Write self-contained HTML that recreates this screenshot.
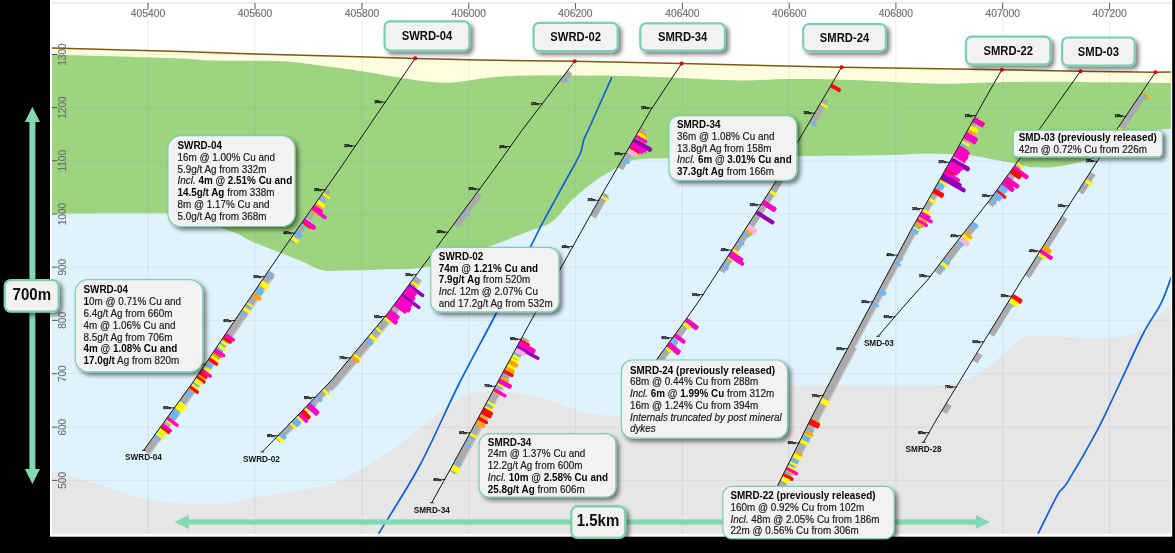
<!DOCTYPE html>
<html><head><meta charset="utf-8"><title>Cross section</title>
<style>html,body{margin:0;padding:0;background:#000;overflow:hidden}svg{display:block}text{font-family:"Liberation Sans",sans-serif}</style></head>
<body>
<svg width="1175" height="553" viewBox="0 0 1175 553" font-family="Liberation Sans, sans-serif">
<defs>
<clipPath id="cp"><rect x="52" y="3" width="1118.8" height="530.8"/></clipPath>
<filter id="sh" x="-20%" y="-20%" width="150%" height="160%"><feGaussianBlur in="SourceAlpha" stdDeviation="1.9"/><feOffset dx="2.5" dy="2.5"/><feComponentTransfer><feFuncA type="linear" slope="0.5"/></feComponentTransfer><feMerge><feMergeNode/><feMergeNode in="SourceGraphic"/></feMerge></filter>
</defs>
<rect x="0" y="0" width="1175" height="553" fill="#000"/>
<rect x="50" y="0" width="1122.2" height="536.7" fill="#fff"/>
<g clip-path="url(#cp)">
<rect x="52" y="3" width="1120" height="531" fill="#dff3fe"/>
<path d="M52,470 C60,472.5 84,480.1 100,485 C116,489.9 132.2,496.4 148,499.6 C163.8,502.8 181.3,503.4 195,504 C208.7,504.6 220,504.1 230,503 C240,501.9 245,499.5 255,497.6 C265,495.7 277.5,493.9 290,491.7 C302.5,489.5 316.7,489 330,484.3 C343.3,479.6 358.3,470.3 370,463.7 C381.7,457.1 390,451.9 400,444.5 C410,437.1 420.7,426.8 430,419.5 C439.3,412.2 449.2,405.3 456,401 C462.8,396.7 466.2,395.3 471,393.7 C475.8,392.1 476.8,391.5 485,391.5 C493.2,391.5 509.2,392 520,393.5 C530.8,395 541.7,398 550,400.4 C558.3,402.8 563.3,405.7 570,407.9 C576.7,410.1 583.3,412.1 590,413.4 C596.7,414.7 604.2,415.1 610,415.5 C615.8,415.9 610,417.2 625,416 C640,414.8 677.5,412 700,408 C722.5,404 745,395.7 760,392 C775,388.3 770.8,386.9 790,385.8 C809.2,384.7 849.5,385.8 875,385.6 C900.5,385.5 928,385.8 943,384.9 C958,384 958.2,382.9 965,380.5 C971.8,378.1 978.2,374.3 984,370.4 C989.8,366.5 994.5,361.7 1000,357 C1005.5,352.3 1010.9,345.8 1016.7,342.2 C1022.5,338.6 1025.3,336.1 1035,335.3 C1044.7,334.5 1062.5,337 1075,337.4 C1087.5,337.8 1100.8,338.2 1110,337.9 C1119.2,337.5 1124.2,337 1130,335.3 C1135.8,333.6 1140,331.1 1145,327.7 C1150,324.3 1155.5,318.9 1160,314.9 C1164.5,310.8 1170,305.3 1172,303.4 L1172,540 L52,540 Z" fill="#e6e6e6"/>
<path d="M52,213.6 C74.2,213.6 159.5,212.8 185,213.7 C210.5,214.6 198.9,216.7 205,219 C211.1,221.3 216,225.2 221.5,227.7 C227,230.2 233.2,231.8 238,234 C242.8,236.2 243.4,237.8 250.6,241 C257.8,244.2 272.6,249.6 281,253 C289.4,256.4 294.6,258.4 301.3,261.2 C308.1,264 315.1,268.4 321.5,270 C327.9,271.6 330.2,270.8 340,270.7 C349.8,270.6 365.2,270.3 380,269.6 C394.8,268.9 410.5,270.5 429,266.6 C447.5,262.7 474,252 490.8,246 C507.6,240 519.9,234.8 530,230.8 C540.1,226.8 545.1,226.6 551.6,222 C558.1,217.4 563.6,208.5 568.9,203.2 C574.2,197.9 578.8,194 583.4,190.1 C588,186.2 591.7,183.2 596.4,180 C601.1,176.8 606.8,173.7 611.7,170.8 C616.6,167.9 621.4,164.7 626,162.8 C630.6,160.9 631.9,159.9 639.2,159.2 C646.5,158.4 649.5,158.8 669.6,158.3 C689.7,157.9 724.9,157 760,156.5 C795.1,156 853.3,155.8 880,155.3 C906.7,154.9 907.8,154 920,153.8 C932.2,153.6 943.3,153.9 953,154.3 C962.7,154.7 970.2,155.3 978,156.4 C985.8,157.5 993,159.5 1000,160.8 C1007,162.1 1015,163.4 1020,164.4 C1025,165.4 1025,166.5 1030,167 C1035,167.5 1043.5,167.9 1050,167.5 C1056.5,167.1 1062.7,165.7 1069,164.5 C1075.3,163.3 1082.8,161.5 1088,160.1 C1093.2,158.7 1093.8,159.3 1100,156 C1106.2,152.7 1117.5,144.2 1125,140 C1132.5,135.8 1137.2,132.8 1145,131 C1152.8,129.2 1167.5,129.3 1172,129 L1172,40 L52,40 Z" fill="#9dd480"/>
<path d="M52,54.7 C60,54.9 78.7,55.4 100,56 C121.3,56.6 161.7,57.8 180,58.5 C198.3,59.2 193,60 210,60.5 C227,61 263.7,60.4 282,61.3 C300.3,62.1 307.2,64 320,65.6 C332.8,67.2 346.2,68.8 359,70.7 C371.8,72.6 386.5,75.4 397,77.1 C407.5,78.8 413.2,80.1 422,81 C430.8,81.9 442,82.8 450,82.7 C458,82.6 461.7,81.3 470,80.3 C478.3,79.3 488.3,77.4 500,76.6 C511.7,75.8 527.5,75.5 540,75.3 C552.5,75.1 561.7,75.4 575,75.5 C588.3,75.6 602.2,75.6 620,76 C637.8,76.4 662,77.2 682,77.9 C702,78.6 722,80.2 740,80.4 C758,80.6 773,79.1 790,79 C807,78.9 827,79.3 842,79.7 C857,80.1 863.7,80.5 880,81.2 C896.3,81.9 920,83.5 940,83.7 C960,83.9 983.3,82.5 1000,82.2 C1016.7,81.9 1023.3,81.7 1040,81.7 C1056.7,81.7 1078,82 1100,82.2 C1122,82.4 1160,82.9 1172,83 L1172,40 L52,40 Z" fill="#fffde0"/>
<line x1="52" y1="54.5" x2="1171" y2="54.5" stroke="#8a8a8a" stroke-opacity="0.11" stroke-width="1"/>
<line x1="52" y1="107.6" x2="1171" y2="107.6" stroke="#8a8a8a" stroke-opacity="0.11" stroke-width="1"/>
<line x1="52" y1="160.8" x2="1171" y2="160.8" stroke="#8a8a8a" stroke-opacity="0.11" stroke-width="1"/>
<line x1="52" y1="214" x2="1171" y2="214" stroke="#8a8a8a" stroke-opacity="0.11" stroke-width="1"/>
<line x1="52" y1="267.2" x2="1171" y2="267.2" stroke="#8a8a8a" stroke-opacity="0.11" stroke-width="1"/>
<line x1="52" y1="320.4" x2="1171" y2="320.4" stroke="#8a8a8a" stroke-opacity="0.11" stroke-width="1"/>
<line x1="52" y1="373.7" x2="1171" y2="373.7" stroke="#8a8a8a" stroke-opacity="0.11" stroke-width="1"/>
<line x1="52" y1="427.2" x2="1171" y2="427.2" stroke="#8a8a8a" stroke-opacity="0.11" stroke-width="1"/>
<line x1="52" y1="480.4" x2="1171" y2="480.4" stroke="#8a8a8a" stroke-opacity="0.11" stroke-width="1"/>
<path d="M52,47.9 L180,51.6 L255,54.1 L359,56.7 L415,58.4 L480,60 L575,61.3 L682,63.6 L842,67.3 L1002,69.7 L1080,71.2 L1155,72.3 L1172,71.9 L1172,0 L52,0 Z" fill="#fff"/>
<line x1="148" y1="3" x2="148" y2="534" stroke="#8a8a8a" stroke-opacity="0.15" stroke-width="1"/>
<line x1="255" y1="3" x2="255" y2="534" stroke="#8a8a8a" stroke-opacity="0.15" stroke-width="1"/>
<line x1="362" y1="3" x2="362" y2="534" stroke="#8a8a8a" stroke-opacity="0.15" stroke-width="1"/>
<line x1="468.7" y1="3" x2="468.7" y2="534" stroke="#8a8a8a" stroke-opacity="0.15" stroke-width="1"/>
<line x1="575.4" y1="3" x2="575.4" y2="534" stroke="#8a8a8a" stroke-opacity="0.15" stroke-width="1"/>
<line x1="682.4" y1="3" x2="682.4" y2="534" stroke="#8a8a8a" stroke-opacity="0.15" stroke-width="1"/>
<line x1="789.2" y1="3" x2="789.2" y2="534" stroke="#8a8a8a" stroke-opacity="0.15" stroke-width="1"/>
<line x1="895.9" y1="3" x2="895.9" y2="534" stroke="#8a8a8a" stroke-opacity="0.15" stroke-width="1"/>
<line x1="1002.7" y1="3" x2="1002.7" y2="534" stroke="#8a8a8a" stroke-opacity="0.15" stroke-width="1"/>
<line x1="1109.6" y1="3" x2="1109.6" y2="534" stroke="#8a8a8a" stroke-opacity="0.15" stroke-width="1"/>
<path d="M52,47.9 L180,51.6 L255,54.1 L359,56.7 L415,58.4 L480,60 L575,61.3 L682,63.6 L842,67.3 L1002,69.7 L1080,71.2 L1155,72.3 L1172,71.9" fill="none" stroke="#7b5a14" stroke-width="1.5"/>
<path d="M611.9,77.1 C609.5,82.6 601.1,101.2 597.2,110 C593.3,118.8 590.5,125 588.3,130 C586,135 585.1,136 583.7,140 C582.3,144 583,147.3 580,154 C577,160.7 572.7,167.7 566,180 C559.3,192.3 545.8,216.8 540,227.8 C534.2,238.8 538.7,231 531,246 C523.3,261 505.9,294.8 493.8,318 C481.7,341.2 470.7,360.5 458.4,385 C446.1,409.5 433.3,440.2 420,465 C406.7,489.8 385.3,522.5 378.4,534" fill="none" stroke="#0f5fd8" stroke-width="1.7"/>
<path d="M1172.4,274 C1170.5,278.9 1165.9,293.4 1161,303.4 C1156.1,313.4 1150.4,319.6 1143,334 C1135.6,348.4 1124.3,374 1116.7,390 C1109.1,406 1105.6,414.6 1097.5,429.8 C1089.4,445 1074.6,470.6 1068,481.4 C1061.4,492.2 1062.7,485.8 1057.7,494.6 C1052.7,503.4 1041.3,527.4 1038,534" fill="none" stroke="#0f5fd8" stroke-width="1.7"/>
<g><polygon points="326,188.5 288.9,241.2 293.6,244.5 330.7,191.8" fill="#ababab"/>
<polygon points="268.9,270.3 235,320 194.5,380 143.7,450.3 150.3,455.1 201.3,384.6 241.8,324.6 275.6,274.9" fill="#c6c6c6"/>
<polygon points="268.9,270.3 235,320 194.5,380 143.7,450.3 149,454.2 200,383.7 240.5,323.7 274.3,274" fill="#ababab"/>
<path d="M323.58,192.61 L330.04,197.16 Q330.53,197.5 330.18,197.99 L329.58,198.85 Q329.23,199.34 328.74,199 L322.28,194.45 Z" fill="#ffff00"/>
<path d="M319.99,197.71 L325.22,201.39 Q325.71,201.74 325.37,202.23 L324.76,203.09 Q324.42,203.58 323.93,203.23 L318.69,199.55 Z" fill="#6fb4f6"/>
<path d="M318.49,199.84 L324.54,204.1 Q325.93,205.08 324.95,206.47 L324.53,207.07 Q323.55,208.46 322.16,207.48 L316.11,203.22 Z" fill="#ffff00"/>
<path d="M316.12,203.21 L322.91,207.99 Q323.4,208.33 323.05,208.82 L322.45,209.68 Q322.1,210.17 321.61,209.83 L314.82,205.05 Z" fill="#ffa400"/>
<path d="M314.94,204.88 L322.3,210.06 Q323.69,211.04 322.71,212.43 L322.63,212.55 Q321.65,213.94 320.26,212.96 L312.9,207.78 Z" fill="#ff00c4"/>
<path d="M313.39,207.08 L326.07,216 Q327.46,216.98 326.48,218.37 L326.4,218.49 Q325.42,219.88 324.03,218.9 L311.35,209.98 Z" fill="#ff00c4"/>
<path d="M311.46,209.82 L318.09,214.49 Q318.58,214.83 318.23,215.32 L317.93,215.75 Q317.58,216.24 317.09,215.9 L310.47,211.24 Z" fill="#ffa400"/>
<path d="M305.9,217.72 L310.07,220.66 Q310.56,221.01 310.22,221.5 L309.92,221.93 Q309.57,222.42 309.08,222.07 L304.91,219.14 Z" fill="#ffb4e0"/>
<path d="M305.29,218.6 L315.35,225.68 Q316.74,226.66 315.76,228.05 L315,229.13 Q314.02,230.52 312.63,229.54 L302.57,222.46 Z" fill="#ff00c4"/>
<path d="M302.88,222.02 L310.59,227.46 Q311.3,227.95 310.8,228.66 L310.8,228.66 Q310.31,229.36 309.6,228.87 L301.88,223.44 Z" fill="#ff0a0a"/>
<path d="M302.04,223.21 L307.03,226.72 Q307.52,227.07 307.18,227.56 L306.57,228.42 Q306.23,228.91 305.74,228.56 L300.75,225.05 Z" fill="#6fb4f6"/>
<path d="M296.77,230.7 L302.58,234.79 Q303.07,235.13 302.72,235.62 L300.7,238.5 Q300.35,238.99 299.86,238.65 L294.05,234.56 Z" fill="#6fb4f6"/>
<path d="M292.91,236.18 L298.72,240.27 Q299.21,240.61 298.86,241.1 L297.52,243.02 Q297.17,243.51 296.68,243.16 L290.88,239.08 Z" fill="#ffff00"/>
<path d="M267.74,272.66 L273.61,276.66 Q274.1,277 273.77,277.49 L272.45,279.43 Q272.11,279.92 271.61,279.59 L265.75,275.59 Z" fill="#6fb4f6"/>
<path d="M262.48,280.39 L269.17,284.95 Q269.67,285.29 269.33,285.78 L266.68,289.67 Q266.34,290.16 265.85,289.82 L259.15,285.26 Z" fill="#ffff00"/>
<path d="M258.12,286.79 L263.98,290.79 Q264.48,291.12 264.14,291.62 L261.49,295.5 Q261.16,296 260.66,295.66 L254.79,291.66 Z" fill="#6fb4f6"/>
<path d="M254.14,292.62 L260.75,297.12 Q262.16,298.08 261.2,299.49 L260.79,300.09 Q259.83,301.49 258.43,300.54 L251.82,296.03 Z" fill="#ffa400"/>
<path d="M247.54,302.31 L252.99,306.03 Q253.49,306.37 253.15,306.86 L252.85,307.3 Q252.52,307.79 252.02,307.45 L246.57,303.74 Z" fill="#ffff00"/>
<path d="M246.24,304.21 L251.28,307.65 Q251.78,307.99 251.44,308.48 L251.15,308.92 Q250.81,309.41 250.31,309.07 L245.27,305.64 Z" fill="#6fb4f6"/>
<path d="M244.57,306.66 L250.44,310.66 Q250.94,311 250.6,311.49 L249.28,313.43 Q248.94,313.92 248.45,313.59 L242.58,309.59 Z" fill="#ffff00"/>
<path d="M241.43,311.28 L246.88,315 Q247.38,315.33 247.04,315.83 L246.15,317.13 Q245.81,317.63 245.32,317.29 L239.86,313.57 Z" fill="#6fb4f6"/>
<path d="M226.53,333.26 L234.33,338.52 Q235.73,339.47 234.78,340.88 L234.71,340.99 Q233.75,342.4 232.34,341.45 L224.55,336.19 Z" fill="#ff00c4"/>
<path d="M224.58,336.16 L231.21,340.63 Q232.62,341.58 231.67,342.99 L231.59,343.11 Q230.64,344.52 229.23,343.57 L222.6,339.09 Z" fill="#ff0a0a"/>
<path d="M221.79,340.29 L227.67,344.26 Q228.17,344.6 227.83,345.1 L227.24,345.97 Q226.91,346.46 226.41,346.13 L220.53,342.16 Z" fill="#ffff00"/>
<path d="M220.3,342.49 L225.36,345.9 Q225.85,346.24 225.52,346.74 L224.93,347.61 Q224.6,348.1 224.1,347.77 L219.04,344.36 Z" fill="#6fb4f6"/>
<path d="M219.24,344.06 L225.96,348.59 Q226.46,348.92 226.12,349.42 L224.81,351.36 Q224.47,351.86 223.98,351.52 L217.26,346.99 Z" fill="#ffff00"/>
<path d="M217.4,346.79 L222.87,350.48 Q223.37,350.82 223.03,351.32 L222.44,352.19 Q222.11,352.68 221.61,352.35 L216.14,348.66 Z" fill="#6fb4f6"/>
<path d="M216.27,348.46 L224.56,354.05 Q225.97,355 225.02,356.41 L224.94,356.53 Q223.99,357.94 222.58,356.99 L214.29,351.39 Z" fill="#ff00c4"/>
<path d="M214.13,351.64 L221.58,356.67 Q222.17,357.07 221.77,357.65 L221.77,357.65 Q221.38,358.24 220.79,357.84 L213.34,352.81 Z" fill="#ff0a0a"/>
<path d="M213.16,353.07 L219.87,357.61 Q220.37,357.94 220.03,358.44 L219.15,359.74 Q218.82,360.24 218.32,359.91 L211.61,355.37 Z" fill="#ffa400"/>
<path d="M211.67,355.27 L218.39,359.81 Q218.88,360.14 218.55,360.64 L217.67,361.94 Q217.33,362.44 216.83,362.11 L210.12,357.57 Z" fill="#ffff00"/>
<path d="M210.13,357.56 L217.59,362.59 Q219,363.54 218.05,364.95 L217.97,365.07 Q217.02,366.48 215.61,365.53 L208.15,360.49 Z" fill="#ff0a0a"/>
<path d="M207.5,361.46 L212.97,365.15 Q213.47,365.48 213.13,365.98 L211.82,367.92 Q211.49,368.42 210.99,368.08 L205.52,364.39 Z" fill="#6fb4f6"/>
<path d="M205.65,364.19 L211.12,367.88 Q211.62,368.22 211.29,368.72 L210.7,369.59 Q210.36,370.08 209.87,369.75 L204.39,366.06 Z" fill="#6fb4f6"/>
<path d="M204.6,365.76 L210.9,370.01 Q211.39,370.34 211.06,370.84 L209.75,372.78 Q209.41,373.28 208.92,372.94 L202.62,368.69 Z" fill="#ffff00"/>
<path d="M202.57,368.76 L211.27,374.63 Q212.68,375.58 211.73,376.99 L211.65,377.11 Q210.7,378.52 209.29,377.57 L200.59,371.69 Z" fill="#ff00c4"/>
<path d="M200.68,371.56 L206.9,375.75 Q208.31,376.7 207.36,378.11 L207.28,378.23 Q206.33,379.64 204.92,378.69 L198.7,374.49 Z" fill="#ff0a0a"/>
<path d="M198.84,374.29 L205.55,378.82 Q206.05,379.16 205.71,379.66 L205.12,380.53 Q204.79,381.02 204.29,380.69 L197.58,376.16 Z" fill="#ffa400"/>
<path d="M197.91,375.66 L204.96,380.41 Q206.37,381.36 205.42,382.77 L205.34,382.89 Q204.39,384.3 202.98,383.35 L195.93,378.59 Z" fill="#ff0a0a"/>
<path d="M196.29,378.07 L202.59,382.32 Q203.08,382.66 202.75,383.15 L200.78,386.07 Q200.44,386.57 199.95,386.23 L193.65,381.98 Z" fill="#ffff00"/>
<path d="M193.6,381.94 L198.54,385.51 Q199.03,385.86 198.67,386.35 L198.37,386.77 Q198.02,387.26 197.53,386.91 L192.58,383.33 Z" fill="#6fb4f6"/>
<path d="M192.46,383.51 L198.21,387.67 Q198.7,388.02 198.35,388.51 L197.42,389.78 Q197.07,390.27 196.59,389.92 L190.83,385.76 Z" fill="#ffff00"/>
<path d="M191.09,385.4 L198.39,390.67 Q199.76,391.67 198.77,393.04 L198.69,393.16 Q197.69,394.54 196.31,393.54 L189.02,388.27 Z" fill="#ff0a0a"/>
<path d="M189.09,388.16 L194.85,392.32 Q195.34,392.67 194.98,393.16 L194.86,393.33 Q194.51,393.82 194.02,393.46 L188.27,389.31 Z" fill="#ffa400"/>
<path d="M188.27,389.31 L193.21,392.88 Q193.7,393.23 193.35,393.72 L192.42,395 Q192.07,395.48 191.59,395.13 L186.64,391.56 Z" fill="#6fb4f6"/>
<path d="M186.09,392.32 L191.03,395.9 Q191.52,396.25 191.17,396.73 L190.55,397.58 Q190.2,398.07 189.72,397.72 L184.77,394.15 Z" fill="#6fb4f6"/>
<path d="M180.88,399.54 L185.42,402.82 Q185.9,403.17 185.55,403.65 L185.24,404.08 Q184.89,404.56 184.41,404.21 L179.87,400.93 Z" fill="#6fb4f6"/>
<path d="M179.83,400.99 L185.99,405.44 Q187.37,406.43 186.37,407.81 L183.52,411.75 Q182.53,413.13 181.15,412.13 L174.99,407.68 Z" fill="#ffff00"/>
<path d="M173.97,409.09 L179.73,413.25 Q180.22,413.6 179.86,414.08 L175.73,419.81 Q175.38,420.29 174.89,419.94 L169.14,415.78 Z" fill="#6fb4f6"/>
<path d="M168.4,416.8 L178.13,423.83 Q179.51,424.82 178.51,426.2 L178.43,426.32 Q177.43,427.69 176.05,426.7 L166.33,419.67 Z" fill="#ff00c4"/>
<path d="M166.42,419.54 L172.18,423.69 Q172.67,424.05 172.31,424.53 L172.01,424.96 Q171.66,425.44 171.17,425.09 L165.41,420.93 Z" fill="#ffff00"/>
<path d="M163.49,423.6 L171.35,429.28 Q172.73,430.28 171.73,431.65 L171.65,431.77 Q170.65,433.15 169.28,432.15 L161.41,426.47 Z" fill="#ff00c4"/>
<path d="M161.78,425.97 L169.53,431.57 Q170.69,432.41 169.85,433.58 L169.85,433.58 Q169.01,434.74 167.84,433.9 L160.09,428.3 Z" fill="#ff0a0a"/>
<path d="M160.26,428.06 L166.67,432.69 Q167.15,433.04 166.8,433.53 L165.09,435.9 Q164.73,436.39 164.25,436.04 L157.85,431.41 Z" fill="#ffff00"/>
<path d="M157.95,431.26 L162.89,434.84 Q163.38,435.19 163.03,435.67 L162.91,435.84 Q162.55,436.33 162.07,435.98 L157.12,432.41 Z" fill="#6fb4f6"/>
<path d="M157.63,431.7 L164.04,436.33 Q164.52,436.68 164.17,437.16 L162.8,439.06 Q162.45,439.55 161.96,439.2 L155.56,434.57 Z" fill="#ffff00"/>
<path d="M155.6,434.51 L160.95,438.38 Q161.44,438.73 161.09,439.21 L160.17,440.49 Q159.81,440.98 159.33,440.62 L153.98,436.76 Z" fill="#6fb4f6"/>
<polyline points="415.2,58.3 339,170 282.7,250 235,320 194.5,380 143.7,450.3" fill="none" stroke="#151515" stroke-width="1"/>
<line x1="382.1" y1="102.1" x2="385.9" y2="102.1" stroke="#111" stroke-width="0.9"/>
<text opacity="0.99" x="382.1" y="103.2" font-size="3.1" font-weight="bold" text-anchor="end" fill="#000" stroke="#000" stroke-width="0.25">100m</text>
<line x1="352.2" y1="145.9" x2="356" y2="145.9" stroke="#111" stroke-width="0.9"/>
<text opacity="0.99" x="352.2" y="147" font-size="3.1" font-weight="bold" text-anchor="end" fill="#000" stroke="#000" stroke-width="0.25">200m</text>
<line x1="322" y1="189.6" x2="325.8" y2="189.6" stroke="#111" stroke-width="0.9"/>
<text opacity="0.99" x="322" y="190.7" font-size="3.1" font-weight="bold" text-anchor="end" fill="#000" stroke="#000" stroke-width="0.25">300m</text>
<line x1="291.5" y1="233" x2="295.3" y2="233" stroke="#111" stroke-width="0.9"/>
<text opacity="0.99" x="291.5" y="234.1" font-size="3.1" font-weight="bold" text-anchor="end" fill="#000" stroke="#000" stroke-width="0.25">400m</text>
<line x1="261.4" y1="276.6" x2="265.2" y2="276.6" stroke="#111" stroke-width="0.9"/>
<text opacity="0.99" x="261.4" y="277.7" font-size="3.1" font-weight="bold" text-anchor="end" fill="#000" stroke="#000" stroke-width="0.25">500m</text>
<line x1="231.5" y1="320.5" x2="235.3" y2="320.5" stroke="#111" stroke-width="0.9"/>
<text opacity="0.99" x="231.5" y="321.6" font-size="3.1" font-weight="bold" text-anchor="end" fill="#000" stroke="#000" stroke-width="0.25">600m</text>
<line x1="201.8" y1="364.4" x2="205.6" y2="364.4" stroke="#111" stroke-width="0.9"/>
<text opacity="0.99" x="201.8" y="365.5" font-size="3.1" font-weight="bold" text-anchor="end" fill="#000" stroke="#000" stroke-width="0.25">700m</text>
<line x1="171.2" y1="407.8" x2="175" y2="407.8" stroke="#111" stroke-width="0.9"/>
<text opacity="0.99" x="171.2" y="408.9" font-size="3.1" font-weight="bold" text-anchor="end" fill="#000" stroke="#000" stroke-width="0.25">800m</text>
<line x1="141.9" y1="450.3" x2="145.5" y2="450.3" stroke="#111" stroke-width="0.9"/>
<circle cx="415.2" cy="58.3" r="2" fill="#dd0011"/>
<text opacity="0.99" x="143.5" y="460.2" font-size="8.2" font-weight="bold" text-anchor="middle" fill="#111">SWRD-04</text></g>
<g><polygon points="567.8,70.3 559.6,81.1 564.2,84.6 572.4,73.8" fill="#ababab"/>
<polygon points="477.2,192.4 453.7,224.3 458.5,227.9 482,196" fill="#ababab"/>
<polygon points="415.5,276 388.1,312.9 331.8,380 326,386 332,391.8 338.2,385.4 394.8,317.9 422.2,281" fill="#c6c6c6"/>
<polygon points="415.5,276 388.1,312.9 331.8,380 326,386 330.9,390.7 337,384.4 393.6,317 420.9,280.1" fill="#ababab"/>
<polygon points="326,386 275.2,438.6 279.8,443 330.6,390.4" fill="#c6c6c6"/>
<polygon points="326,386 275.2,438.6 278.9,442.2 329.7,389.6" fill="#ababab"/>
<path d="M563.7,76.36 L568.94,80.37 Q569.42,80.73 569.05,81.21 L568.73,81.62 Q568.37,82.1 567.89,81.74 L562.65,77.73 Z" fill="#6fb4f6"/>
<path d="M464.18,210.74 L469.5,214.66 Q469.98,215.01 469.63,215.5 L469.31,215.92 Q468.96,216.4 468.47,216.05 L463.16,212.13 Z" fill="#6fb4f6"/>
<path d="M412.44,280.75 L418.95,285.58 Q419.43,285.93 419.07,286.42 L418.32,287.43 Q417.97,287.91 417.48,287.55 L410.98,282.73 Z" fill="#ffff00"/>
<path d="M410.09,283.92 L423.75,294.04 Q425.11,295.06 424.1,296.42 L424.02,296.53 Q423.01,297.9 421.64,296.89 L407.99,286.76 Z" fill="#9200b2"/>
<path d="M408.57,285.97 L416.44,291.81 Q417.81,292.82 416.8,294.19 L415.31,296.19 Q414.29,297.56 412.93,296.55 L405.06,290.71 Z" fill="#ff00c4"/>
<path d="M405.58,290.01 L414.9,296.92 Q416.26,297.93 415.25,299.29 L414.11,300.83 Q413.1,302.19 411.73,301.18 L402.42,294.27 Z" fill="#ff00c4"/>
<path d="M402.97,293.52 L419.84,306.03 Q421.21,307.04 420.19,308.4 L420.11,308.52 Q419.1,309.88 417.73,308.87 L400.87,296.36 Z" fill="#9200b2"/>
<path d="M401.42,295.61 L411.87,303.35 Q413.23,304.36 412.22,305.73 L411.08,307.26 Q410.07,308.63 408.7,307.62 L398.26,299.87 Z" fill="#ff00c4"/>
<path d="M398.86,299.06 L410.51,307.7 Q411.87,308.71 410.86,310.08 L409.51,311.9 Q408.5,313.26 407.13,312.25 L395.49,303.61 Z" fill="#ff00c4"/>
<path d="M395.93,303.02 L405.97,310.46 Q407.33,311.48 406.32,312.84 L406.24,312.95 Q405.22,314.32 403.86,313.31 L393.82,305.86 Z" fill="#ff00c4"/>
<path d="M391.01,309.65 L399.04,315.61 Q400.41,316.62 399.39,317.98 L398.47,319.23 Q397.45,320.6 396.09,319.59 L388.06,313.63 Z" fill="#ff00c4"/>
<path d="M388.57,312.96 L397.38,320.35 Q398.68,321.44 397.59,322.75 L396.59,323.94 Q395.5,325.24 394.2,324.15 L385.39,316.76 Z" fill="#ff00c4"/>
<path d="M385.44,316.69 L390.49,320.94 Q390.95,321.32 390.57,321.78 L389.56,322.99 Q389.17,323.45 388.71,323.06 L383.65,318.82 Z" fill="#ffff00"/>
<path d="M376.71,327.1 L382.15,331.66 Q382.61,332.04 382.22,332.5 L381.55,333.31 Q381.16,333.77 380.7,333.38 L375.27,328.82 Z" fill="#ffff00"/>
<path d="M375.35,328.72 L380.02,332.64 Q380.48,333.02 380.1,333.48 L379.96,333.64 Q379.58,334.1 379.12,333.72 L374.44,329.8 Z" fill="#6fb4f6"/>
<path d="M371,333.9 L377.21,339.11 Q377.67,339.49 377.28,339.95 L375.78,341.75 Q375.39,342.21 374.93,341.82 L368.73,336.61 Z" fill="#ffff00"/>
<path d="M367.42,338.18 L372.85,342.74 Q373.31,343.12 372.93,343.58 L371.04,345.83 Q370.66,346.29 370.2,345.9 L364.76,341.34 Z" fill="#6fb4f6"/>
<path d="M354.64,353.4 L360.83,358.59 Q361.69,359.31 360.97,360.17 L360.97,360.17 Q360.25,361.03 359.38,360.31 L353.2,355.12 Z" fill="#ffff00"/>
<path d="M353.13,355.2 L358.87,360.02 Q360.18,361.11 359.08,362.42 L358.99,362.52 Q357.9,363.83 356.6,362.73 L350.85,357.91 Z" fill="#ffa400"/>
<path d="M324.84,387.77 L329.23,392.01 Q329.66,392.43 329.24,392.86 L329.1,393.01 Q328.68,393.44 328.25,393.02 L323.86,388.78 Z" fill="#6fb4f6"/>
<path d="M324.16,388.48 L329.62,393.76 Q330.05,394.18 329.64,394.61 L328.54,395.74 Q328.13,396.17 327.69,395.76 L322.23,390.48 Z" fill="#ffff00"/>
<path d="M317.85,395.01 L322.6,399.59 Q323.03,400.01 322.61,400.44 L320.99,402.12 Q320.57,402.55 320.14,402.14 L315.39,397.55 Z" fill="#6fb4f6"/>
<path d="M312.05,401.01 L316.44,405.24 Q316.87,405.66 316.45,406.09 L314.83,407.78 Q314.41,408.21 313.98,407.79 L309.59,403.55 Z" fill="#6fb4f6"/>
<path d="M310.36,402.76 L318.99,411.1 Q320.21,412.28 319.03,413.5 L317.29,415.3 Q316.11,416.52 314.89,415.34 L306.26,407 Z" fill="#ff00c4"/>
<path d="M305.62,407.66 L310.01,411.9 Q310.44,412.31 310.02,412.75 L309.66,413.12 Q309.24,413.55 308.81,413.14 L304.42,408.9 Z" fill="#ffff00"/>
<path d="M303.76,409.58 L310.23,415.84 Q311.46,417.02 310.27,418.24 L309.36,419.19 Q308.18,420.41 306.95,419.23 L300.48,412.97 Z" fill="#ff0a0a"/>
<path d="M300.45,413.01 L307.64,419.96 Q308.87,421.14 307.68,422.36 L307.59,422.46 Q306.4,423.68 305.18,422.5 L297.99,415.55 Z" fill="#ff00c4"/>
<path d="M297.88,415.67 L303.34,420.95 Q303.77,421.37 303.36,421.8 L302.63,422.55 Q302.21,422.99 301.78,422.57 L296.31,417.29 Z" fill="#ffff00"/>
<path d="M296.16,417.44 L301.27,422.38 Q301.7,422.8 301.28,423.23 L297.6,427.03 Q297.19,427.46 296.76,427.05 L291.65,422.11 Z" fill="#6fb4f6"/>
<path d="M291.3,422.47 L296.77,427.75 Q297.2,428.17 296.78,428.6 L296.05,429.35 Q295.64,429.79 295.21,429.37 L289.74,424.09 Z" fill="#ffff00"/>
<path d="M281.81,432.29 L286.55,436.88 Q286.99,437.3 286.57,437.73 L284.53,439.84 Q284.12,440.27 283.68,439.85 L278.94,435.26 Z" fill="#6fb4f6"/>
<path d="M278.8,435.41 L283.91,440.34 Q284.34,440.76 283.92,441.19 L282.29,442.87 Q281.88,443.3 281.44,442.89 L276.34,437.95 Z" fill="#ffff00"/>
<polyline points="574.7,61.3 522.2,130 493.7,170 437.2,246.7 388.1,312.9 331.8,380 262.3,451.9" fill="none" stroke="#151515" stroke-width="1"/>
<line x1="539" y1="103.8" x2="542.8" y2="103.8" stroke="#111" stroke-width="0.9"/>
<text opacity="0.99" x="539" y="104.9" font-size="3.1" font-weight="bold" text-anchor="end" fill="#000" stroke="#000" stroke-width="0.25">100m</text>
<line x1="507.2" y1="146.5" x2="511" y2="146.5" stroke="#111" stroke-width="0.9"/>
<text opacity="0.99" x="507.2" y="147.6" font-size="3.1" font-weight="bold" text-anchor="end" fill="#000" stroke="#000" stroke-width="0.25">200m</text>
<line x1="476.4" y1="189.1" x2="480.2" y2="189.1" stroke="#111" stroke-width="0.9"/>
<text opacity="0.99" x="476.4" y="190.2" font-size="3.1" font-weight="bold" text-anchor="end" fill="#000" stroke="#000" stroke-width="0.25">300m</text>
<line x1="444.7" y1="232.2" x2="448.5" y2="232.2" stroke="#111" stroke-width="0.9"/>
<text opacity="0.99" x="444.7" y="233.3" font-size="3.1" font-weight="bold" text-anchor="end" fill="#000" stroke="#000" stroke-width="0.25">400m</text>
<line x1="413.3" y1="274.6" x2="417.1" y2="274.6" stroke="#111" stroke-width="0.9"/>
<text opacity="0.99" x="413.3" y="275.7" font-size="3.1" font-weight="bold" text-anchor="end" fill="#000" stroke="#000" stroke-width="0.25">500m</text>
<line x1="381.9" y1="316.5" x2="385.7" y2="316.5" stroke="#111" stroke-width="0.9"/>
<text opacity="0.99" x="381.9" y="317.6" font-size="3.1" font-weight="bold" text-anchor="end" fill="#000" stroke="#000" stroke-width="0.25">600m</text>
<line x1="347.2" y1="357.8" x2="351" y2="357.8" stroke="#111" stroke-width="0.9"/>
<text opacity="0.99" x="347.2" y="358.9" font-size="3.1" font-weight="bold" text-anchor="end" fill="#000" stroke="#000" stroke-width="0.25">700m</text>
<line x1="311.8" y1="397.4" x2="315.6" y2="397.4" stroke="#111" stroke-width="0.9"/>
<text opacity="0.99" x="311.8" y="398.5" font-size="3.1" font-weight="bold" text-anchor="end" fill="#000" stroke="#000" stroke-width="0.25">800m</text>
<line x1="274.8" y1="435.7" x2="278.6" y2="435.7" stroke="#111" stroke-width="0.9"/>
<text opacity="0.99" x="274.8" y="436.8" font-size="3.1" font-weight="bold" text-anchor="end" fill="#000" stroke="#000" stroke-width="0.25">900m</text>
<line x1="260.5" y1="451.9" x2="264.1" y2="451.9" stroke="#111" stroke-width="0.9"/>
<circle cx="574.7" cy="61.3" r="2" fill="#dd0011"/>
<text opacity="0.99" x="261.4" y="462.3" font-size="8.2" font-weight="bold" text-anchor="middle" fill="#111">SWRD-02</text></g>
<g><polygon points="640.7,127.4 617.7,167.2 623.1,170.3 646.1,130.5" fill="#ababab"/>
<polygon points="603.2,192.3 590.2,215.5 595.8,218.6 608.8,195.4" fill="#ababab"/>
<polygon points="522.4,336.6 488,400 452.6,465 449.3,471 456.7,475.1 460.1,469.1 495.5,404.1 529.9,340.7" fill="#c6c6c6"/>
<polygon points="522.4,336.6 488,400 452.6,465 449.3,471 455.2,474.3 458.6,468.3 494,403.2 528.4,339.8" fill="#ababab"/>
<path d="M639.56,130.23 L646.57,134.28 Q647.09,134.58 646.79,135.1 L646.26,136.01 Q645.96,136.53 645.44,136.23 L638.43,132.17 Z" fill="#ffa400"/>
<path d="M638.43,132.17 L644.92,135.93 Q646.39,136.78 645.54,138.25 L645.47,138.37 Q644.62,139.84 643.15,138.99 L636.66,135.23 Z" fill="#ffff00"/>
<path d="M636.99,134.67 L646.51,140.18 Q647.98,141.03 647.13,142.5 L647.06,142.62 Q646.2,144.09 644.73,143.24 L635.21,137.73 Z" fill="#ff00c4"/>
<path d="M635.29,137.59 L642.3,141.65 Q642.82,141.95 642.52,142.47 L642.42,142.65 Q642.12,143.17 641.6,142.87 L634.59,138.81 Z" fill="#ffa400"/>
<path d="M634.97,138.16 L651.41,147.68 Q652.88,148.53 652.03,150 L651.37,151.14 Q650.52,152.61 649.05,151.76 L632.6,142.24 Z" fill="#9200b2"/>
<path d="M632.76,141.97 L645.74,149.48 Q647.21,150.33 646.36,151.8 L646.29,151.93 Q645.44,153.4 643.97,152.55 L630.99,145.03 Z" fill="#ff00c4"/>
<path d="M631.49,144.17 L642.74,150.68 Q644.21,151.53 643.36,153 L643.29,153.12 Q642.44,154.6 640.97,153.74 L629.71,147.23 Z" fill="#ff00c4"/>
<path d="M630.01,146.73 L639.16,152.02 Q640.13,152.59 639.57,153.56 L639.57,153.56 Q639.01,154.53 638.03,153.97 L628.88,148.67 Z" fill="#ff0a0a"/>
<path d="M629.18,148.16 L636.97,152.67 Q638.44,153.52 637.59,154.99 L636.93,156.13 Q636.07,157.6 634.6,156.75 L626.81,152.24 Z" fill="#ffb4e0"/>
<path d="M623.67,157.67 L629.82,161.22 Q630.34,161.53 630.04,162.04 L628.87,164.07 Q628.57,164.59 628.05,164.29 L621.9,160.73 Z" fill="#6fb4f6"/>
<path d="M602.39,194.58 L608.59,198.05 Q609.11,198.34 608.82,198.87 L608.72,199.05 Q608.42,199.57 607.9,199.28 L601.7,195.81 Z" fill="#6fb4f6"/>
<path d="M601.87,195.51 L608.94,199.47 Q609.46,199.76 609.17,200.29 L608.66,201.2 Q608.36,201.73 607.84,201.43 L600.77,197.48 Z" fill="#ffff00"/>
<path d="M521.4,339.27 L529.15,343.47 Q530.37,344.14 529.7,345.35 L529.7,345.35 Q529.04,346.57 527.82,345.91 L520.08,341.71 Z" fill="#ff0a0a"/>
<path d="M520.41,341.1 L534.91,348.97 Q536.41,349.78 535.6,351.27 L534.4,353.47 Q533.59,354.96 532.1,354.15 L517.6,346.28 Z" fill="#ff00c4"/>
<path d="M518.06,345.43 L538.71,356.64 Q540.21,357.45 539.4,358.95 L539.33,359.07 Q538.52,360.56 537.02,359.75 L516.37,348.55 Z" fill="#9200b2"/>
<path d="M516.76,347.82 L524.68,352.11 Q526.17,352.92 525.36,354.41 L524.73,355.57 Q523.92,357.07 522.42,356.26 L514.51,351.97 Z" fill="#ffb4e0"/>
<path d="M514.66,351.7 L520.46,354.85 Q520.99,355.14 520.7,355.66 L520.2,356.59 Q519.91,357.11 519.39,356.83 L513.58,353.68 Z" fill="#6fb4f6"/>
<path d="M513.34,354.13 L520.02,357.76 Q520.54,358.05 520.26,358.57 L519.14,360.63 Q518.86,361.16 518.33,360.87 L511.65,357.25 Z" fill="#ffff00"/>
<path d="M511.97,356.66 L517.33,359.57 Q517.85,359.86 517.57,360.39 L517.57,360.39 Q517.28,360.91 516.75,360.63 L511.39,357.72 Z" fill="#6fb4f6"/>
<path d="M511.53,357.47 L518.21,361.1 Q518.73,361.38 518.45,361.91 L517.7,363.29 Q517.41,363.82 516.88,363.53 L510.2,359.91 Z" fill="#ffff00"/>
<path d="M510.36,359.62 L517.4,363.43 Q518.89,364.24 518.08,365.74 L517.45,366.9 Q516.64,368.39 515.14,367.58 L508.11,363.77 Z" fill="#ffa400"/>
<path d="M508.18,363.63 L515.3,367.5 Q515.83,367.78 515.54,368.31 L514.43,370.37 Q514.14,370.9 513.61,370.61 L506.5,366.75 Z" fill="#ffff00"/>
<path d="M506.84,366.12 L513.87,369.93 Q515.36,370.74 514.55,372.24 L513.92,373.4 Q513.11,374.89 511.62,374.08 L504.59,370.27 Z" fill="#ffa400"/>
<path d="M504.93,369.63 L512.84,373.93 Q514.33,374.74 513.52,376.23 L513.46,376.35 Q512.65,377.85 511.15,377.04 L503.24,372.75 Z" fill="#ff0a0a"/>
<path d="M502.99,373.2 L508.79,376.35 Q509.32,376.64 509.04,377.16 L508.53,378.09 Q508.25,378.61 507.72,378.33 L501.92,375.18 Z" fill="#6fb4f6"/>
<path d="M501.51,375.93 L508.1,379.51 Q509.6,380.32 508.79,381.82 L508.72,381.94 Q507.91,383.43 506.41,382.62 L499.82,379.05 Z" fill="#ffa400"/>
<path d="M500.06,378.62 L511.04,384.58 Q512.54,385.39 511.73,386.88 L511.1,388.04 Q510.29,389.54 508.79,388.73 L497.8,382.77 Z" fill="#ff00c4"/>
<path d="M497.71,382.93 L503.95,386.32 Q504.48,386.6 504.2,387.13 L503.95,387.59 Q503.66,388.12 503.13,387.83 L496.89,384.45 Z" fill="#ffff00"/>
<path d="M494.84,388.23 L505.82,394.2 Q507.32,395.01 506.51,396.5 L506.44,396.62 Q505.63,398.12 504.14,397.31 L493.15,391.35 Z" fill="#ff00c4"/>
<path d="M493.24,391.17 L499.49,394.56 Q500.01,394.84 499.73,395.37 L499.63,395.55 Q499.34,396.08 498.81,395.8 L492.57,392.41 Z" fill="#ffa400"/>
<path d="M488.03,400.77 L494.71,404.41 Q495.24,404.69 494.95,405.22 L494.2,406.6 Q493.91,407.13 493.38,406.84 L486.71,403.21 Z" fill="#ffff00"/>
<path d="M486.71,403.2 L492.51,406.36 Q493.03,406.65 492.75,407.17 L492.24,408.1 Q491.96,408.62 491.43,408.34 L485.63,405.18 Z" fill="#6fb4f6"/>
<path d="M485.39,405.64 L492.5,409.51 Q493.03,409.8 492.74,410.32 L491.62,412.38 Q491.33,412.91 490.81,412.62 L483.69,408.75 Z" fill="#ffff00"/>
<path d="M484.33,407.58 L492.23,411.89 Q493.72,412.7 492.91,414.19 L491.15,417.42 Q490.34,418.92 488.84,418.1 L480.94,413.8 Z" fill="#ff0a0a"/>
<path d="M480.45,414.7 L487.56,418.58 Q488.09,418.86 487.8,419.39 L487.3,420.31 Q487.01,420.84 486.49,420.55 L479.37,416.68 Z" fill="#ffa400"/>
<path d="M479.39,416.64 L487.3,420.94 Q488.79,421.75 487.98,423.25 L487.91,423.37 Q487.1,424.86 485.61,424.05 L477.7,419.75 Z" fill="#ff0a0a"/>
<path d="M477.5,420.12 L484.52,423.95 Q486.02,424.76 485.2,426.25 L484.57,427.41 Q483.76,428.9 482.27,428.09 L475.24,424.26 Z" fill="#ffa400"/>
<path d="M470.66,432.67 L476.9,436.07 Q477.42,436.36 477.14,436.88 L476.38,438.27 Q476.1,438.79 475.57,438.51 L469.33,435.11 Z" fill="#ffff00"/>
<path d="M469.28,435.2 L475.08,438.36 Q475.61,438.65 475.32,439.17 L474.82,440.1 Q474.53,440.62 474,440.34 L468.21,437.18 Z" fill="#6fb4f6"/>
<path d="M465.2,442.7 L470.99,445.86 Q471.52,446.15 471.23,446.67 L470.73,447.6 Q470.45,448.12 469.92,447.84 L464.12,444.68 Z" fill="#6fb4f6"/>
<path d="M455.4,460.7 L461.19,463.86 Q461.72,464.15 461.43,464.67 L460.93,465.6 Q460.64,466.12 460.12,465.84 L454.32,462.68 Z" fill="#6fb4f6"/>
<path d="M453.27,464.61 L459.93,468.28 Q460.45,468.57 460.16,469.1 L457.89,473.21 Q457.6,473.74 457.08,473.45 L450.42,469.78 Z" fill="#ffff00"/>
<polyline points="681.6,63.6 650.8,110 604.5,190 565.3,260 531.4,320 488,400 452.6,465 431.8,502.7" fill="none" stroke="#151515" stroke-width="1"/>
<line x1="648.9" y1="108" x2="652.7" y2="108" stroke="#111" stroke-width="0.9"/>
<text opacity="0.99" x="648.9" y="109.1" font-size="3.1" font-weight="bold" text-anchor="end" fill="#000" stroke="#000" stroke-width="0.25">100m</text>
<line x1="622.5" y1="153.4" x2="626.3" y2="153.4" stroke="#111" stroke-width="0.9"/>
<text opacity="0.99" x="622.5" y="154.5" font-size="3.1" font-weight="bold" text-anchor="end" fill="#000" stroke="#000" stroke-width="0.25">200m</text>
<line x1="595.5" y1="200.3" x2="599.3" y2="200.3" stroke="#111" stroke-width="0.9"/>
<text opacity="0.99" x="595.5" y="201.4" font-size="3.1" font-weight="bold" text-anchor="end" fill="#000" stroke="#000" stroke-width="0.25">300m</text>
<line x1="569.6" y1="246.6" x2="573.4" y2="246.6" stroke="#111" stroke-width="0.9"/>
<text opacity="0.99" x="569.6" y="247.7" font-size="3.1" font-weight="bold" text-anchor="end" fill="#000" stroke="#000" stroke-width="0.25">400m</text>
<line x1="543.5" y1="292.9" x2="547.3" y2="292.9" stroke="#111" stroke-width="0.9"/>
<text opacity="0.99" x="543.5" y="294" font-size="3.1" font-weight="bold" text-anchor="end" fill="#000" stroke="#000" stroke-width="0.25">500m</text>
<line x1="517.8" y1="339.2" x2="521.6" y2="339.2" stroke="#111" stroke-width="0.9"/>
<text opacity="0.99" x="517.8" y="340.3" font-size="3.1" font-weight="bold" text-anchor="end" fill="#000" stroke="#000" stroke-width="0.25">600m</text>
<line x1="492.2" y1="386.3" x2="496" y2="386.3" stroke="#111" stroke-width="0.9"/>
<text opacity="0.99" x="492.2" y="387.4" font-size="3.1" font-weight="bold" text-anchor="end" fill="#000" stroke="#000" stroke-width="0.25">700m</text>
<line x1="466.9" y1="432.8" x2="470.7" y2="432.8" stroke="#111" stroke-width="0.9"/>
<text opacity="0.99" x="466.9" y="433.9" font-size="3.1" font-weight="bold" text-anchor="end" fill="#000" stroke="#000" stroke-width="0.25">800m</text>
<line x1="441.5" y1="479.4" x2="445.3" y2="479.4" stroke="#111" stroke-width="0.9"/>
<text opacity="0.99" x="441.5" y="480.5" font-size="3.1" font-weight="bold" text-anchor="end" fill="#000" stroke="#000" stroke-width="0.25">900m</text>
<line x1="430" y1="502.7" x2="433.6" y2="502.7" stroke="#111" stroke-width="0.9"/>
<circle cx="681.6" cy="63.6" r="2" fill="#dd0011"/>
<text opacity="0.99" x="431.8" y="512.5" font-size="8.2" font-weight="bold" text-anchor="middle" fill="#111">SMRD-34</text></g>
<g><polygon points="830.6,86 828.8,89 832.3,91 834,88" fill="#ababab"/>
<polygon points="823.3,98.4 808.5,123.7 813.5,126.6 828.3,101.3" fill="#ababab"/>
<polygon points="782.2,170 775.3,182.3 738.3,240 719,270 724.2,273.4 743.6,243.4 780.8,185.4 787.7,173.1" fill="#ababab"/>
<polygon points="686.9,318 685.5,320 656.9,359.3 640,383 645.4,386.8 662.2,363.2 690.9,323.8 692.3,321.8" fill="#ababab"/>
<path d="M832.37,83.72 L840.14,88.27 Q841.6,89.13 840.74,90.6 L840.37,91.23 Q839.51,92.7 838.05,91.84 L830.28,87.28 Z" fill="#ff0a0a"/>
<path d="M821.28,102.63 L827.84,106.48 Q828.35,106.78 828.05,107.3 L827.52,108.2 Q827.22,108.72 826.7,108.42 L820.14,104.57 Z" fill="#ffff00"/>
<path d="M810.99,120.18 L816.68,123.51 Q817.2,123.82 816.9,124.34 L815.71,126.35 Q815.41,126.87 814.89,126.57 L809.2,123.23 Z" fill="#6fb4f6"/>
<path d="M770.81,190.05 L777.2,194.15 Q777.71,194.47 777.39,194.98 L776.54,196.31 Q776.21,196.81 775.71,196.49 L769.31,192.38 Z" fill="#ffff00"/>
<path d="M764.44,199.98 L775.8,207.27 Q777.23,208.19 776.31,209.62 L775.28,211.22 Q774.37,212.66 772.94,211.74 L761.57,204.45 Z" fill="#ff00c4"/>
<path d="M757.71,210.48 L773.7,220.73 Q775.13,221.65 774.21,223.08 L773.82,223.7 Q772.9,225.13 771.47,224.21 L755.48,213.95 Z" fill="#9200b2"/>
<path d="M748.89,224.23 L756.46,229.09 Q757.89,230.01 756.98,231.44 L755.63,233.54 Q754.71,234.98 753.28,234.06 L745.7,229.2 Z" fill="#ffb4e0"/>
<path d="M745.8,229.05 L752.62,233.42 Q753.12,233.74 752.8,234.25 L751.95,235.58 Q751.62,236.08 751.12,235.76 L744.3,231.38 Z" fill="#ffa400"/>
<path d="M744.2,231.55 L749.75,235.11 Q750.26,235.43 749.93,235.94 L749.08,237.27 Q748.76,237.77 748.25,237.45 L742.7,233.88 Z" fill="#6fb4f6"/>
<path d="M738.74,240.05 L744.29,243.63 Q744.79,243.95 744.47,244.46 L743.61,245.78 Q743.29,246.29 742.79,245.96 L737.24,242.38 Z" fill="#6fb4f6"/>
<path d="M733.18,248.67 L739.57,252.79 Q740.07,253.12 739.75,253.62 L739.18,254.5 Q738.85,255.01 738.35,254.68 L731.96,250.56 Z" fill="#ffff00"/>
<path d="M731.69,250.98 L742.62,258.03 Q744.05,258.95 743.12,260.38 L742.73,260.99 Q741.81,262.42 740.38,261.5 L729.45,254.45 Z" fill="#ff00c4"/>
<path d="M730.08,253.48 L743.53,262.15 Q744.95,263.08 744.03,264.5 L743.64,265.12 Q742.72,266.55 741.29,265.62 L727.84,256.95 Z" fill="#ff00c4"/>
<path d="M728.05,256.62 L733.18,259.93 Q733.68,260.26 733.36,260.76 L733.24,260.94 Q732.92,261.44 732.42,261.12 L727.29,257.81 Z" fill="#ffff00"/>
<path d="M723.28,264.03 L728.82,267.61 Q729.33,267.93 729,268.44 L727.73,270.4 Q727.41,270.91 726.9,270.58 L721.36,267 Z" fill="#6fb4f6"/>
<path d="M687.23,318.24 L693.03,322.33 Q693.52,322.68 693.18,323.17 L693.18,323.17 Q692.83,323.66 692.34,323.31 L686.54,319.22 Z" fill="#ffa400"/>
<path d="M687.36,318.06 L697.98,325.55 Q699.37,326.53 698.39,327.92 L697.29,329.48 Q696.31,330.87 694.92,329.89 L684.3,322.4 Z" fill="#ff00c4"/>
<path d="M684.68,321.8 L691.23,326.57 Q691.72,326.92 691.36,327.41 L689.99,329.3 Q689.63,329.79 689.15,329.43 L682.6,324.67 Z" fill="#ffff00"/>
<path d="M676.12,333.57 L685.02,340.04 Q686.39,341.04 685.39,342.41 L684.96,343 Q683.96,344.38 682.59,343.38 L673.69,336.91 Z" fill="#ff00c4"/>
<path d="M672.66,338.33 L677.99,342.21 Q678.48,342.56 678.13,343.05 L676.05,345.9 Q675.7,346.38 675.22,346.03 L669.88,342.14 Z" fill="#6fb4f6"/>
<path d="M669.8,342.25 L676.35,347.02 Q676.84,347.37 676.48,347.85 L676.48,347.85 Q676.13,348.34 675.65,347.99 L669.1,343.22 Z" fill="#ff0a0a"/>
<path d="M669.73,342.35 L680.24,350 Q681.62,351 680.62,352.37 L679.14,354.4 Q678.14,355.77 676.77,354.77 L666.26,347.12 Z" fill="#ff00c4"/>
<path d="M666.63,346.61 L672.77,351.09 Q673.26,351.44 672.9,351.92 L671.98,353.2 Q671.62,353.68 671.14,353.33 L664.99,348.86 Z" fill="#ffff00"/>
<polyline points="841.6,67.2 798.9,140 775.3,182.3 738.3,240 699.6,300 685.5,320 656.9,359.3 640,383" fill="none" stroke="#151515" stroke-width="1"/>
<line x1="811.5" y1="113.1" x2="815.3" y2="113.1" stroke="#111" stroke-width="0.9"/>
<text opacity="0.99" x="811.5" y="114.2" font-size="3.1" font-weight="bold" text-anchor="end" fill="#000" stroke="#000" stroke-width="0.25">100m</text>
<line x1="785.2" y1="158.9" x2="789" y2="158.9" stroke="#111" stroke-width="0.9"/>
<text opacity="0.99" x="785.2" y="160" font-size="3.1" font-weight="bold" text-anchor="end" fill="#000" stroke="#000" stroke-width="0.25">200m</text>
<line x1="757.7" y1="204.7" x2="761.5" y2="204.7" stroke="#111" stroke-width="0.9"/>
<text opacity="0.99" x="757.7" y="205.8" font-size="3.1" font-weight="bold" text-anchor="end" fill="#000" stroke="#000" stroke-width="0.25">300m</text>
<line x1="728.6" y1="250.1" x2="732.4" y2="250.1" stroke="#111" stroke-width="0.9"/>
<text opacity="0.99" x="728.6" y="251.2" font-size="3.1" font-weight="bold" text-anchor="end" fill="#000" stroke="#000" stroke-width="0.25">400m</text>
<line x1="699.9" y1="294.6" x2="703.7" y2="294.6" stroke="#111" stroke-width="0.9"/>
<text opacity="0.99" x="699.9" y="295.7" font-size="3.1" font-weight="bold" text-anchor="end" fill="#000" stroke="#000" stroke-width="0.25">500m</text>
<line x1="669.3" y1="337.9" x2="673.1" y2="337.9" stroke="#111" stroke-width="0.9"/>
<text opacity="0.99" x="669.3" y="339" font-size="3.1" font-weight="bold" text-anchor="end" fill="#000" stroke="#000" stroke-width="0.25">600m</text>
<circle cx="841.6" cy="67.2" r="2" fill="#dd0011"/></g>
<g><polygon points="975.8,115.5 956.6,150 911,230 878.9,290 849.5,345 855.3,348.1 884.6,293.1 916.6,233.2 962.3,153.2 981.5,118.7" fill="#c6c6c6"/>
<polygon points="975.8,115.5 956.6,150 911,230 878.9,290 849.5,345 854.1,347.4 883.5,292.5 915.5,232.6 961.1,152.5 980.3,118" fill="#ababab"/>
<polygon points="849.5,345 836.2,370 810.2,420 777.6,485.8 770,501 777.6,504.8 785.2,489.6 817.7,423.9 843.7,374 857,349" fill="#c6c6c6"/>
<polygon points="849.5,345 836.2,370 810.2,420 777.6,485.8 770,501 776.3,504.1 783.9,488.9 816.4,423.2 842.4,373.3 855.7,348.3" fill="#ababab"/>
<path d="M975.16,117.44 L984.63,122.71 Q985.39,123.13 984.97,123.88 L984.97,123.88 Q984.55,124.63 983.79,124.21 L974.32,118.95 Z" fill="#ff0a0a"/>
<path d="M974.78,118.13 L983.52,122.99 Q985,123.82 984.18,125.3 L983.53,126.46 Q982.71,127.94 981.22,127.12 L972.48,122.26 Z" fill="#ff00c4"/>
<path d="M970.88,125.13 L977.44,128.78 Q978.93,129.6 978.1,131.09 L977.46,132.24 Q976.63,133.73 975.15,132.9 L968.59,129.26 Z" fill="#ffff00"/>
<path d="M968.74,128.98 L975.82,132.92 Q976.35,133.21 976.06,133.73 L975.29,135.11 Q975,135.63 974.47,135.34 L967.4,131.41 Z" fill="#ffa400"/>
<path d="M967.01,132.1 L977.06,137.69 Q978.55,138.51 977.72,140 L975.93,143.22 Q975.11,144.7 973.62,143.88 L963.57,138.29 Z" fill="#ff00c4"/>
<path d="M962.35,140.48 L969.43,144.42 Q969.95,144.71 969.66,145.23 L968.9,146.61 Q968.61,147.13 968.08,146.84 L961,142.91 Z" fill="#ffff00"/>
<path d="M961.13,142.68 L967.33,146.13 Q967.86,146.42 967.56,146.95 L966.8,148.32 Q966.51,148.85 965.98,148.56 L959.78,145.11 Z" fill="#6fb4f6"/>
<path d="M959.52,145.58 L968.25,150.44 Q968.87,150.78 968.53,151.39 L968.53,151.39 Q968.18,152.01 967.57,151.67 L958.83,146.81 Z" fill="#ff0a0a"/>
<path d="M959.21,146.13 L968.82,151.48 Q970.31,152.3 969.48,153.79 L968.84,154.94 Q968.01,156.43 966.53,155.6 L956.91,150.26 Z" fill="#ff00c4"/>
<path d="M957.26,149.65 L967.69,155.59 Q969.16,156.43 968.32,157.91 L967.67,159.06 Q966.83,160.53 965.35,159.69 L954.92,153.75 Z" fill="#ff00c4"/>
<path d="M955.27,153.15 L965.26,158.84 Q966.73,159.68 965.89,161.16 L965.24,162.31 Q964.4,163.79 962.92,162.94 L952.93,157.25 Z" fill="#ff00c4"/>
<path d="M953.37,156.48 L963.01,161.97 Q963.53,162.27 963.24,162.79 L963.24,162.79 Q962.94,163.31 962.42,163.02 L952.77,157.52 Z" fill="#ffb4e0"/>
<path d="M952.7,157.65 L969.21,167.06 Q970.68,167.9 969.84,169.38 L969.19,170.52 Q968.35,172 966.87,171.16 L950.36,161.75 Z" fill="#9200b2"/>
<path d="M950.85,160.9 L962.14,167.34 Q963.62,168.18 962.77,169.66 L962.41,170.29 Q961.57,171.77 960.09,170.93 L948.8,164.49 Z" fill="#ff00c4"/>
<path d="M949.14,163.9 L959.56,169.85 Q961.04,170.69 960.2,172.17 L959.83,172.8 Q958.99,174.28 957.52,173.43 L947.09,167.49 Z" fill="#ff00c4"/>
<path d="M947.56,166.66 L957.12,172.11 Q958.6,172.95 957.76,174.43 L957.69,174.55 Q956.84,176.02 955.37,175.18 L945.81,169.74 Z" fill="#ff00c4"/>
<path d="M946.23,168.99 L954.33,173.6 Q955.53,174.29 954.84,175.5 L954.84,175.5 Q954.16,176.7 952.95,176.02 L944.86,171.4 Z" fill="#ff0a0a"/>
<path d="M945.29,170.65 L959.19,178.57 Q960.67,179.41 959.83,180.89 L959.17,182.04 Q958.33,183.51 956.85,182.67 L942.95,174.75 Z" fill="#ff00c4"/>
<path d="M943.57,173.66 L960.95,183.56 Q962.43,184.41 961.58,185.88 L961.52,186 Q960.67,187.48 959.2,186.64 L941.82,176.74 Z" fill="#9200b2"/>
<path d="M942.41,175.7 L965,188.58 Q966.47,189.42 965.63,190.9 L965.27,191.53 Q964.43,193.01 962.95,192.17 L940.36,179.29 Z" fill="#9200b2"/>
<path d="M940.12,179.72 L947.16,183.73 Q947.68,184.03 947.38,184.55 L946.86,185.46 Q946.56,185.98 946.04,185.69 L939.01,181.68 Z" fill="#ffff00"/>
<path d="M938.74,182.14 L944.48,185.4 Q945,185.7 944.7,186.22 L942.37,190.31 Q942.08,190.83 941.56,190.53 L935.82,187.26 Z" fill="#6fb4f6"/>
<path d="M935.18,188.39 L943.43,193.1 Q944.91,193.94 944.07,195.41 L943.12,197.07 Q942.28,198.55 940.8,197.71 L932.55,193 Z" fill="#ff0a0a"/>
<path d="M929.7,197.99 L936.31,201.76 Q936.83,202.05 936.53,202.57 L935.75,203.94 Q935.45,204.46 934.93,204.17 L928.33,200.4 Z" fill="#ffff00"/>
<path d="M923.62,208.66 L930.66,212.67 Q931.18,212.97 930.89,213.49 L929.73,215.52 Q929.43,216.04 928.91,215.75 L921.87,211.74 Z" fill="#ffff00"/>
<path d="M922.01,211.49 L930.1,216.1 Q931.31,216.79 930.62,218 L930.62,218 Q929.93,219.2 928.73,218.52 L920.64,213.9 Z" fill="#ff00c4"/>
<path d="M920.77,213.66 L932.07,220.1 Q933.55,220.94 932.7,222.42 L932.63,222.54 Q931.79,224.02 930.32,223.17 L919.02,216.74 Z" fill="#ff00c4"/>
<path d="M919.16,216.49 L926.38,220.61 Q927.59,221.3 926.9,222.5 L926.9,222.5 Q926.21,223.71 925.01,223.02 L917.79,218.9 Z" fill="#ffa400"/>
<path d="M917.92,218.66 L927.05,223.86 Q928.52,224.7 927.68,226.18 L927.61,226.3 Q926.77,227.78 925.29,226.94 L916.17,221.74 Z" fill="#ff00c4"/>
<path d="M916.5,221.16 L923.01,224.87 Q924.49,225.72 923.65,227.19 L923.58,227.31 Q922.74,228.79 921.26,227.95 L914.75,224.24 Z" fill="#ffa400"/>
<path d="M914.75,224.22 L920.49,227.49 Q921.01,227.79 920.71,228.31 L920.19,229.22 Q919.9,229.74 919.37,229.44 L913.64,226.18 Z" fill="#6fb4f6"/>
<path d="M913.61,226.22 L920.22,229.98 Q920.74,230.28 920.44,230.8 L919.92,231.71 Q919.62,232.24 919.1,231.94 L912.5,228.18 Z" fill="#ffff00"/>
<path d="M912.8,227.65 L918.54,230.92 Q919.06,231.21 918.76,231.73 L917.02,234.79 Q916.72,235.31 916.2,235.02 L910.46,231.75 Z" fill="#6fb4f6"/>
<path d="M897.51,256.07 L902.89,258.94 Q903.42,259.23 903.13,259.76 L903.03,259.94 Q902.75,260.47 902.22,260.19 L896.84,257.31 Z" fill="#6fb4f6"/>
<path d="M894.89,260.97 L900.71,264.08 Q901.24,264.36 900.95,264.89 L900.21,266.28 Q899.93,266.81 899.4,266.53 L893.58,263.41 Z" fill="#6fb4f6"/>
<path d="M880.1,288.61 L886.36,291.95 Q886.89,292.23 886.61,292.76 L884.95,295.87 Q884.67,296.4 884.14,296.11 L877.87,292.77 Z" fill="#6fb4f6"/>
<path d="M872.97,301.96 L878.79,305.07 Q879.32,305.35 879.04,305.88 L878.3,307.27 Q878.01,307.8 877.48,307.52 L871.66,304.41 Z" fill="#6fb4f6"/>
<path d="M822.18,397.83 L829.37,401.57 Q829.9,401.84 829.62,402.38 L827.73,406.02 Q827.45,406.55 826.92,406.28 L819.73,402.54 Z" fill="#ffff00"/>
<path d="M811.73,417.92 L819.57,422 Q820.34,422.39 819.94,423.16 L819.94,423.16 Q819.54,423.92 818.78,423.53 L810.94,419.45 Z" fill="#ffa400"/>
<path d="M811.12,419.03 L819.19,423.03 Q820.71,423.78 819.96,425.31 L818.85,427.55 Q818.09,429.07 816.57,428.32 L808.51,424.32 Z" fill="#ff0a0a"/>
<path d="M806.85,427.67 L812.76,430.6 Q813.3,430.87 813.03,431.4 L812.57,432.34 Q812.3,432.88 811.76,432.62 L805.85,429.69 Z" fill="#6fb4f6"/>
<path d="M805.78,429.83 L812.5,433.16 Q814.02,433.91 813.27,435.43 L812.94,436.09 Q812.19,437.61 810.66,436.86 L803.94,433.53 Z" fill="#ffa400"/>
<path d="M804.01,433.4 L811.26,437 Q811.8,437.27 811.53,437.8 L811.3,438.28 Q811.04,438.81 810.5,438.55 L803.24,434.95 Z" fill="#ffff00"/>
<path d="M803.69,434.03 L810.5,437.41 Q811.04,437.67 810.77,438.21 L808.69,442.42 Q808.42,442.96 807.88,442.69 L801.07,439.32 Z" fill="#6fb4f6"/>
<path d="M801.19,439.09 L808.45,442.69 Q808.98,442.95 808.72,443.49 L807.68,445.59 Q807.41,446.13 806.87,445.86 L799.62,442.26 Z" fill="#ffff00"/>
<path d="M795.32,450.93 L802.58,454.53 Q803.12,454.8 802.85,455.33 L802.15,456.75 Q801.88,457.28 801.35,457.02 L794.09,453.42 Z" fill="#ffa400"/>
<path d="M794.27,453.06 L801.52,456.66 Q802.06,456.93 801.8,457.46 L800.23,460.62 Q799.97,461.15 799.43,460.89 L792.17,457.29 Z" fill="#ffff00"/>
<path d="M792.28,457.06 L798.65,460.21 Q799.18,460.48 798.92,461.02 L797.35,464.17 Q797.09,464.71 796.55,464.44 L790.19,461.29 Z" fill="#6fb4f6"/>
<path d="M790.25,461.17 L796.61,464.32 Q797.15,464.59 796.88,465.13 L796.42,466.07 Q796.15,466.6 795.61,466.34 L789.25,463.19 Z" fill="#ffff00"/>
<path d="M789.07,463.55 L794.54,466.25 Q795.08,466.52 794.81,467.06 L794.72,467.25 Q794.45,467.78 793.91,467.52 L788.45,464.81 Z" fill="#6fb4f6"/>
<path d="M788.27,465.17 L795.08,468.54 Q795.62,468.81 795.35,469.35 L794.88,470.29 Q794.62,470.83 794.08,470.56 L787.27,467.19 Z" fill="#ffff00"/>
<path d="M787.32,467.09 L797.17,471.97 Q798.7,472.73 797.94,474.25 L797.88,474.38 Q797.12,475.9 795.6,475.15 L785.74,470.26 Z" fill="#ff00c4"/>
<path d="M786.04,469.67 L793.3,473.27 Q793.83,473.53 793.57,474.07 L793.1,475.01 Q792.83,475.55 792.3,475.28 L785.04,471.69 Z" fill="#ffa400"/>
<path d="M785.05,471.67 L790.96,474.6 Q791.5,474.87 791.23,475.4 L790.77,476.34 Q790.5,476.88 789.96,476.62 L784.05,473.69 Z" fill="#6fb4f6"/>
<path d="M784.24,473.29 L792.76,477.51 Q794.28,478.26 793.52,479.79 L793.46,479.91 Q792.71,481.44 791.18,480.68 L782.67,476.46 Z" fill="#ff0a0a"/>
<path d="M782.87,476.06 L789.68,479.44 Q790.22,479.7 789.95,480.24 L788.39,483.39 Q788.12,483.93 787.59,483.67 L780.78,480.29 Z" fill="#ffff00"/>
<polyline points="1001.9,69.7 984.4,100 956.6,150 911,230 878.9,290 836.2,370 810.2,420 777.6,485.8 770,501" fill="none" stroke="#151515" stroke-width="1"/>
<line x1="972.6" y1="115.5" x2="976.4" y2="115.5" stroke="#111" stroke-width="0.9"/>
<text opacity="0.99" x="972.6" y="116.6" font-size="3.1" font-weight="bold" text-anchor="end" fill="#000" stroke="#000" stroke-width="0.25">100m</text>
<line x1="946.4" y1="162.3" x2="950.2" y2="162.3" stroke="#111" stroke-width="0.9"/>
<text opacity="0.99" x="946.4" y="163.4" font-size="3.1" font-weight="bold" text-anchor="end" fill="#000" stroke="#000" stroke-width="0.25">200m</text>
<line x1="920" y1="208.6" x2="923.8" y2="208.6" stroke="#111" stroke-width="0.9"/>
<text opacity="0.99" x="920" y="209.7" font-size="3.1" font-weight="bold" text-anchor="end" fill="#000" stroke="#000" stroke-width="0.25">300m</text>
<line x1="894.3" y1="255.2" x2="898.1" y2="255.2" stroke="#111" stroke-width="0.9"/>
<text opacity="0.99" x="894.3" y="256.3" font-size="3.1" font-weight="bold" text-anchor="end" fill="#000" stroke="#000" stroke-width="0.25">400m</text>
<line x1="869.3" y1="301.9" x2="873.1" y2="301.9" stroke="#111" stroke-width="0.9"/>
<text opacity="0.99" x="869.3" y="303" font-size="3.1" font-weight="bold" text-anchor="end" fill="#000" stroke="#000" stroke-width="0.25">500m</text>
<line x1="844.4" y1="348.6" x2="848.2" y2="348.6" stroke="#111" stroke-width="0.9"/>
<text opacity="0.99" x="844.4" y="349.7" font-size="3.1" font-weight="bold" text-anchor="end" fill="#000" stroke="#000" stroke-width="0.25">600m</text>
<line x1="819.7" y1="395.5" x2="823.5" y2="395.5" stroke="#111" stroke-width="0.9"/>
<text opacity="0.99" x="819.7" y="396.6" font-size="3.1" font-weight="bold" text-anchor="end" fill="#000" stroke="#000" stroke-width="0.25">700m</text>
<line x1="795.7" y1="442.9" x2="799.5" y2="442.9" stroke="#111" stroke-width="0.9"/>
<text opacity="0.99" x="795.7" y="444" font-size="3.1" font-weight="bold" text-anchor="end" fill="#000" stroke="#000" stroke-width="0.25">800m</text>
<circle cx="1001.9" cy="69.7" r="2" fill="#dd0011"/></g>
<g><polygon points="1018.6,160.3 989.7,200 987.3,203 992.7,207.2 995.2,204 1024.1,164.3" fill="#ababab"/>
<polygon points="972.6,221.7 950,250.4 934.4,270.9 940.1,275.2 955.6,254.8 978.2,226.1" fill="#ababab"/>
<path d="M1017.77,162.11 L1023.92,166.59 Q1024.4,166.94 1024.05,167.42 L1023.12,168.7 Q1022.77,169.18 1022.28,168.83 L1016.14,164.36 Z" fill="#ffff00"/>
<path d="M1015.07,165.83 L1028.01,175.24 Q1029.38,176.24 1028.38,177.62 L1027.6,178.69 Q1026.6,180.06 1025.23,179.06 L1012.29,169.64 Z" fill="#ff00c4"/>
<path d="M1013.23,168.35 L1021.32,174.24 Q1022.69,175.24 1021.69,176.61 L1020.22,178.63 Q1019.22,180.01 1017.85,179.01 L1009.76,173.12 Z" fill="#ff0a0a"/>
<path d="M1007.43,176.33 L1018.75,184.57 Q1020.12,185.57 1019.12,186.94 L1018.34,188.01 Q1017.34,189.38 1015.97,188.38 L1004.65,180.14 Z" fill="#ff00c4"/>
<path d="M1004.78,179.97 L1012.86,185.85 Q1013.43,186.26 1013.01,186.83 L1013.01,186.83 Q1012.6,187.4 1012.03,186.99 L1003.95,181.11 Z" fill="#ff0a0a"/>
<path d="M1004.15,180.83 L1013.85,187.89 Q1015.23,188.89 1014.23,190.26 L1013.45,191.33 Q1012.45,192.71 1011.07,191.71 L1001.37,184.64 Z" fill="#ff00c4"/>
<path d="M1001.6,184.33 L1008.15,189.09 Q1008.64,189.45 1008.28,189.93 L1006.21,192.78 Q1005.86,193.26 1005.37,192.91 L998.83,188.14 Z" fill="#6fb4f6"/>
<path d="M999.44,187.3 L1005.58,191.78 Q1006.07,192.13 1005.71,192.62 L1004.34,194.51 Q1003.98,194.99 1003.5,194.64 L997.35,190.17 Z" fill="#6fb4f6"/>
<path d="M997.62,189.8 L1005.7,195.69 Q1007.08,196.69 1006.08,198.06 L1005.99,198.18 Q1004.99,199.55 1003.62,198.55 L995.53,192.67 Z" fill="#ff0a0a"/>
<path d="M996.13,191.85 L1002.68,196.62 Q1003.16,196.97 1002.81,197.46 L1000.04,201.26 Q999.69,201.74 999.2,201.39 L992.65,196.62 Z" fill="#6fb4f6"/>
<path d="M991.05,198.83 L996.39,202.71 Q996.87,203.06 996.52,203.55 L995.9,204.4 Q995.55,204.88 995.06,204.53 L989.73,200.64 Z" fill="#6fb4f6"/>
<path d="M973.36,221.39 L978.54,225.48 Q979.01,225.85 978.64,226.32 L976.46,229.09 Q976.09,229.56 975.62,229.19 L970.44,225.1 Z" fill="#6fb4f6"/>
<path d="M965.51,231.36 L971.79,236.31 Q973.13,237.36 972.08,238.69 L971.99,238.8 Q970.94,240.14 969.6,239.09 L963.32,234.14 Z" fill="#ffa400"/>
<path d="M963.54,233.86 L969.9,238.87 Q970.37,239.24 970,239.71 L968.56,241.55 Q968.18,242.02 967.71,241.65 L961.35,236.64 Z" fill="#ffff00"/>
<path d="M961.72,236.16 L969.19,242.04 Q970.52,243.09 969.47,244.43 L968.29,245.93 Q967.24,247.26 965.9,246.21 L958.44,240.33 Z" fill="#ffb4e0"/>
<path d="M958.58,240.16 L963.76,244.24 Q964.23,244.61 963.86,245.08 L962.89,246.32 Q962.52,246.79 962.04,246.42 L956.86,242.34 Z" fill="#6fb4f6"/>
<path d="M944.47,258.33 L950.12,262.63 Q950.6,262.99 950.24,263.47 L948.82,265.33 Q948.46,265.81 947.98,265.45 L942.33,261.15 Z" fill="#6fb4f6"/>
<path d="M942.19,261.33 L948.24,265.93 Q948.72,266.3 948.36,266.77 L946.94,268.64 Q946.58,269.11 946.1,268.75 L940.05,264.15 Z" fill="#ffff00"/>
<path d="M940.06,264.14 L945.31,268.13 Q945.79,268.49 945.43,268.97 L944.48,270.23 Q944.11,270.7 943.64,270.34 L938.38,266.35 Z" fill="#6fb4f6"/>
<polyline points="1080.5,71.2 1039.7,128.9 1020.2,158.1 989.7,200 950,250.4 927.5,280 909.3,300 878.1,336.3" fill="none" stroke="#151515" stroke-width="1"/>
<line x1="989.8" y1="195.4" x2="993.6" y2="195.4" stroke="#111" stroke-width="0.9"/>
<text opacity="0.99" x="989.8" y="196.5" font-size="3.1" font-weight="bold" text-anchor="end" fill="#000" stroke="#000" stroke-width="0.25">300m</text>
<line x1="958.4" y1="235.7" x2="962.2" y2="235.7" stroke="#111" stroke-width="0.9"/>
<text opacity="0.99" x="958.4" y="236.8" font-size="3.1" font-weight="bold" text-anchor="end" fill="#000" stroke="#000" stroke-width="0.25">400m</text>
<line x1="927.1" y1="276.3" x2="930.9" y2="276.3" stroke="#111" stroke-width="0.9"/>
<text opacity="0.99" x="927.1" y="277.4" font-size="3.1" font-weight="bold" text-anchor="end" fill="#000" stroke="#000" stroke-width="0.25">500m</text>
<line x1="891.7" y1="316.8" x2="895.5" y2="316.8" stroke="#111" stroke-width="0.9"/>
<text opacity="0.99" x="891.7" y="317.9" font-size="3.1" font-weight="bold" text-anchor="end" fill="#000" stroke="#000" stroke-width="0.25">600m</text>
<line x1="876.3" y1="336.3" x2="879.9" y2="336.3" stroke="#111" stroke-width="0.9"/>
<circle cx="1080.5" cy="71.2" r="2" fill="#dd0011"/>
<text opacity="0.99" x="878.9" y="346.1" font-size="8.2" font-weight="bold" text-anchor="middle" fill="#111">SMD-03</text></g>
<g><polygon points="1142.4,91.6 1117.2,129 1113.5,135 1118.6,138.2 1122.2,132.4 1147.4,95" fill="#ababab"/>
<polygon points="1090.5,171.7 1078,191.2 1083.1,194.4 1095.6,174.9" fill="#ababab"/>
<polygon points="1062.3,215.8 1024.9,275.1 1029.9,278.3 1067.3,219" fill="#ababab"/>
<polygon points="1012.8,294.5 988.8,333.5 993.9,336.7 1018,297.7" fill="#ababab"/>
<polygon points="977.3,352.3 972.4,360.3 977.6,363.4 982.4,355.4" fill="#ababab"/>
<polygon points="946.5,403 941.7,411 946.8,414.1 951.6,406.1" fill="#ababab"/>
<path d="M1142.56,92.07 L1149.04,96.44 Q1150.19,97.21 1149.42,98.36 L1149.42,98.36 Q1148.64,99.51 1147.49,98.74 L1141.01,94.37 Z" fill="#ffa400"/>
<path d="M1141.07,94.29 L1146.54,97.98 Q1147.04,98.31 1146.7,98.81 L1146.12,99.68 Q1145.78,100.18 1145.28,99.84 L1139.81,96.16 Z" fill="#6fb4f6"/>
<path d="M1118.98,127.07 L1124.87,131.04 Q1125.37,131.38 1125.03,131.87 L1124.15,133.18 Q1123.82,133.68 1123.32,133.34 L1117.43,129.37 Z" fill="#ffff00"/>
<path d="M1086.57,178.62 L1092.55,182.45 Q1093.05,182.77 1092.73,183.28 L1092.62,183.46 Q1092.29,183.96 1091.79,183.64 L1085.81,179.81 Z" fill="#6fb4f6"/>
<path d="M1086.31,179.03 L1092.71,183.12 Q1093.22,183.45 1092.89,183.95 L1091.63,185.92 Q1091.31,186.43 1090.8,186.1 L1084.4,182.01 Z" fill="#ffff00"/>
<path d="M1044.24,245.22 L1051,249.49 Q1052.44,250.4 1051.53,251.83 L1050.82,252.95 Q1049.92,254.39 1048.48,253.48 L1041.72,249.21 Z" fill="#ffa400"/>
<path d="M1041.55,249.47 L1052.12,256.14 Q1053.56,257.05 1052.65,258.49 L1052.26,259.1 Q1051.35,260.54 1049.92,259.63 L1039.35,252.96 Z" fill="#ff00c4"/>
<path d="M1039.5,252.72 L1045.93,256.77 Q1046.43,257.09 1046.11,257.6 L1044.86,259.58 Q1044.54,260.09 1044.04,259.77 L1037.61,255.71 Z" fill="#ffff00"/>
<path d="M1037.74,255.51 L1042.9,258.76 Q1043.4,259.08 1043.08,259.59 L1043.08,259.59 Q1042.76,260.1 1042.26,259.78 L1037.1,256.52 Z" fill="#6fb4f6"/>
<path d="M1013.66,293.95 L1021.74,298.94 Q1023.19,299.83 1022.3,301.28 L1021.29,302.91 Q1020.4,304.35 1018.95,303.46 L1010.87,298.47 Z" fill="#ff0a0a"/>
<path d="M1011.19,297.95 L1018,302.15 Q1019.44,303.05 1018.55,304.49 L1017.55,306.12 Q1016.65,307.56 1015.21,306.67 L1008.4,302.47 Z" fill="#ffff00"/>
<path d="M1008.44,302.41 L1014.48,306.14 Q1014.99,306.45 1014.67,306.97 L1014.56,307.14 Q1014.25,307.65 1013.74,307.34 L1007.7,303.61 Z" fill="#6fb4f6"/>
<polyline points="1155.4,72.3 1117.2,129 1099.3,158 1066,210 1021.8,280 983.9,341.4 936.2,420 923.6,442.2" fill="none" stroke="#151515" stroke-width="1"/>
<line x1="1122.6" y1="116.3" x2="1126.4" y2="116.3" stroke="#111" stroke-width="0.9"/>
<text opacity="0.99" x="1122.6" y="117.4" font-size="3.1" font-weight="bold" text-anchor="end" fill="#000" stroke="#000" stroke-width="0.25">100m</text>
<line x1="1094" y1="161.3" x2="1097.8" y2="161.3" stroke="#111" stroke-width="0.9"/>
<text opacity="0.99" x="1094" y="162.4" font-size="3.1" font-weight="bold" text-anchor="end" fill="#000" stroke="#000" stroke-width="0.25">200m</text>
<line x1="1065.6" y1="205.7" x2="1069.4" y2="205.7" stroke="#111" stroke-width="0.9"/>
<text opacity="0.99" x="1065.6" y="206.8" font-size="3.1" font-weight="bold" text-anchor="end" fill="#000" stroke="#000" stroke-width="0.25">300m</text>
<line x1="1036.9" y1="251" x2="1040.7" y2="251" stroke="#111" stroke-width="0.9"/>
<text opacity="0.99" x="1036.9" y="252.1" font-size="3.1" font-weight="bold" text-anchor="end" fill="#000" stroke="#000" stroke-width="0.25">400m</text>
<line x1="1008.6" y1="296.2" x2="1012.4" y2="296.2" stroke="#111" stroke-width="0.9"/>
<text opacity="0.99" x="1008.6" y="297.3" font-size="3.1" font-weight="bold" text-anchor="end" fill="#000" stroke="#000" stroke-width="0.25">500m</text>
<line x1="980.5" y1="341.8" x2="984.3" y2="341.8" stroke="#111" stroke-width="0.9"/>
<text opacity="0.99" x="980.5" y="342.9" font-size="3.1" font-weight="bold" text-anchor="end" fill="#000" stroke="#000" stroke-width="0.25">600m</text>
<line x1="953" y1="387" x2="956.8" y2="387" stroke="#111" stroke-width="0.9"/>
<text opacity="0.99" x="953" y="388.1" font-size="3.1" font-weight="bold" text-anchor="end" fill="#000" stroke="#000" stroke-width="0.25">700m</text>
<line x1="925.8" y1="432.7" x2="929.6" y2="432.7" stroke="#111" stroke-width="0.9"/>
<text opacity="0.99" x="925.8" y="433.8" font-size="3.1" font-weight="bold" text-anchor="end" fill="#000" stroke="#000" stroke-width="0.25">800m</text>
<line x1="921.8" y1="442.2" x2="925.4" y2="442.2" stroke="#111" stroke-width="0.9"/>
<circle cx="1155.4" cy="72.3" r="2" fill="#dd0011"/>
<text opacity="0.99" x="923.6" y="452" font-size="8.2" font-weight="bold" text-anchor="middle" fill="#111">SMRD-28</text></g>
</g>
<line x1="52" y1="2.9" x2="1170.8" y2="2.9" stroke="#d9d9d9" stroke-width="1"/>
<line x1="148" y1="3" x2="148" y2="9.2" stroke="#5a5a5a" stroke-width="1"/>
<text opacity="0.99" x="148" y="16.6" font-size="10.3" text-anchor="middle" fill="#6e6e6e" stroke="#6e6e6e" stroke-width="0.15">405400</text>
<line x1="255" y1="3" x2="255" y2="9.2" stroke="#5a5a5a" stroke-width="1"/>
<text opacity="0.99" x="255" y="16.6" font-size="10.3" text-anchor="middle" fill="#6e6e6e" stroke="#6e6e6e" stroke-width="0.15">405600</text>
<line x1="362" y1="3" x2="362" y2="9.2" stroke="#5a5a5a" stroke-width="1"/>
<text opacity="0.99" x="362" y="16.6" font-size="10.3" text-anchor="middle" fill="#6e6e6e" stroke="#6e6e6e" stroke-width="0.15">405800</text>
<line x1="468.7" y1="3" x2="468.7" y2="9.2" stroke="#5a5a5a" stroke-width="1"/>
<text opacity="0.99" x="468.7" y="16.6" font-size="10.3" text-anchor="middle" fill="#6e6e6e" stroke="#6e6e6e" stroke-width="0.15">406000</text>
<line x1="575.4" y1="3" x2="575.4" y2="9.2" stroke="#5a5a5a" stroke-width="1"/>
<text opacity="0.99" x="575.4" y="16.6" font-size="10.3" text-anchor="middle" fill="#6e6e6e" stroke="#6e6e6e" stroke-width="0.15">406200</text>
<line x1="682.4" y1="3" x2="682.4" y2="9.2" stroke="#5a5a5a" stroke-width="1"/>
<text opacity="0.99" x="682.4" y="16.6" font-size="10.3" text-anchor="middle" fill="#6e6e6e" stroke="#6e6e6e" stroke-width="0.15">406400</text>
<line x1="789.2" y1="3" x2="789.2" y2="9.2" stroke="#5a5a5a" stroke-width="1"/>
<text opacity="0.99" x="789.2" y="16.6" font-size="10.3" text-anchor="middle" fill="#6e6e6e" stroke="#6e6e6e" stroke-width="0.15">406600</text>
<line x1="895.9" y1="3" x2="895.9" y2="9.2" stroke="#5a5a5a" stroke-width="1"/>
<text opacity="0.99" x="895.9" y="16.6" font-size="10.3" text-anchor="middle" fill="#6e6e6e" stroke="#6e6e6e" stroke-width="0.15">406800</text>
<line x1="1002.7" y1="3" x2="1002.7" y2="9.2" stroke="#5a5a5a" stroke-width="1"/>
<text opacity="0.99" x="1002.7" y="16.6" font-size="10.3" text-anchor="middle" fill="#6e6e6e" stroke="#6e6e6e" stroke-width="0.15">407000</text>
<line x1="1109.6" y1="3" x2="1109.6" y2="9.2" stroke="#5a5a5a" stroke-width="1"/>
<text opacity="0.99" x="1109.6" y="16.6" font-size="10.3" text-anchor="middle" fill="#6e6e6e" stroke="#6e6e6e" stroke-width="0.15">407200</text>
<line x1="52" y1="54.5" x2="57.4" y2="54.5" stroke="#5a5a5a" stroke-width="1"/>
<text opacity="0.99" transform="translate(65.6,54.5) rotate(-90)" font-size="10" text-anchor="middle" fill="#6e6e6e" stroke="#6e6e6e" stroke-width="0.15">1300</text>
<line x1="52" y1="107.6" x2="57.4" y2="107.6" stroke="#5a5a5a" stroke-width="1"/>
<text opacity="0.99" transform="translate(65.6,107.6) rotate(-90)" font-size="10" text-anchor="middle" fill="#6e6e6e" stroke="#6e6e6e" stroke-width="0.15">1200</text>
<line x1="52" y1="160.8" x2="57.4" y2="160.8" stroke="#5a5a5a" stroke-width="1"/>
<text opacity="0.99" transform="translate(65.6,160.8) rotate(-90)" font-size="10" text-anchor="middle" fill="#6e6e6e" stroke="#6e6e6e" stroke-width="0.15">1100</text>
<line x1="52" y1="214" x2="57.4" y2="214" stroke="#5a5a5a" stroke-width="1"/>
<text opacity="0.99" transform="translate(65.6,214) rotate(-90)" font-size="10" text-anchor="middle" fill="#6e6e6e" stroke="#6e6e6e" stroke-width="0.15">1000</text>
<line x1="52" y1="267.2" x2="57.4" y2="267.2" stroke="#5a5a5a" stroke-width="1"/>
<text opacity="0.99" transform="translate(65.6,267.2) rotate(-90)" font-size="10" text-anchor="middle" fill="#6e6e6e" stroke="#6e6e6e" stroke-width="0.15">900</text>
<line x1="52" y1="320.4" x2="57.4" y2="320.4" stroke="#5a5a5a" stroke-width="1"/>
<text opacity="0.99" transform="translate(65.6,320.4) rotate(-90)" font-size="10" text-anchor="middle" fill="#6e6e6e" stroke="#6e6e6e" stroke-width="0.15">800</text>
<line x1="52" y1="373.7" x2="57.4" y2="373.7" stroke="#5a5a5a" stroke-width="1"/>
<text opacity="0.99" transform="translate(65.6,373.7) rotate(-90)" font-size="10" text-anchor="middle" fill="#6e6e6e" stroke="#6e6e6e" stroke-width="0.15">700</text>
<line x1="52" y1="427.2" x2="57.4" y2="427.2" stroke="#5a5a5a" stroke-width="1"/>
<text opacity="0.99" transform="translate(65.6,427.2) rotate(-90)" font-size="10" text-anchor="middle" fill="#6e6e6e" stroke="#6e6e6e" stroke-width="0.15">600</text>
<line x1="52" y1="480.4" x2="57.4" y2="480.4" stroke="#5a5a5a" stroke-width="1"/>
<text opacity="0.99" transform="translate(65.6,480.4) rotate(-90)" font-size="10" text-anchor="middle" fill="#6e6e6e" stroke="#6e6e6e" stroke-width="0.15">500</text>
<g fill="#84d7b5">
<rect x="29.4" y="118" width="6" height="355"/>
<polygon points="32.4,106.8 24.8,122 40,122"/>
<polygon points="32.4,484 24.8,469 40,469"/>
<rect x="186" y="519.4" width="792" height="5.2"/>
<polygon points="174.5,522 188.8,515 188.8,529"/>
<polygon points="990,522 975.8,515 975.8,529"/>
</g>
<rect x="384.6" y="21.3" width="84.8" height="29.4" rx="5.5" ry="5.5" fill="#f2f2f2" stroke="#7ccfab" stroke-width="2.2" filter="url(#sh)"/>
<text opacity="0.99" transform="translate(427,40.2) scale(0.895,1)" font-size="12.6" font-weight="bold" text-anchor="middle" fill="#0a0a0a">SWRD-04</text>
<rect x="533.6" y="22.8" width="84.1" height="28.4" rx="5.5" ry="5.5" fill="#f2f2f2" stroke="#7ccfab" stroke-width="2.2" filter="url(#sh)"/>
<text opacity="0.99" transform="translate(575.6,41.2) scale(0.895,1)" font-size="12.6" font-weight="bold" text-anchor="middle" fill="#0a0a0a">SWRD-02</text>
<rect x="640.3" y="23.3" width="84.6" height="27.4" rx="5.5" ry="5.5" fill="#f2f2f2" stroke="#7ccfab" stroke-width="2.2" filter="url(#sh)"/>
<text opacity="0.99" transform="translate(682.6,41.2) scale(0.895,1)" font-size="12.6" font-weight="bold" text-anchor="middle" fill="#0a0a0a">SMRD-34</text>
<rect x="803.2" y="24.1" width="82.7" height="27.1" rx="5.5" ry="5.5" fill="#f2f2f2" stroke="#7ccfab" stroke-width="2.2" filter="url(#sh)"/>
<text opacity="0.99" transform="translate(844.5,41.9) scale(0.895,1)" font-size="12.6" font-weight="bold" text-anchor="middle" fill="#0a0a0a">SMRD-24</text>
<rect x="966" y="36.7" width="84.4" height="27.6" rx="5.5" ry="5.5" fill="#f2f2f2" stroke="#7ccfab" stroke-width="2.2" filter="url(#sh)"/>
<text opacity="0.99" transform="translate(1008.2,54.7) scale(0.895,1)" font-size="12.6" font-weight="bold" text-anchor="middle" fill="#0a0a0a">SMRD-22</text>
<rect x="1062.1" y="37.5" width="72.6" height="28" rx="5.5" ry="5.5" fill="#f2f2f2" stroke="#7ccfab" stroke-width="2.2" filter="url(#sh)"/>
<text opacity="0.99" transform="translate(1098.4,55.7) scale(0.895,1)" font-size="12.6" font-weight="bold" text-anchor="middle" fill="#0a0a0a">SMD-03</text>
<rect x="4.7" y="280.1" width="53.9" height="31.6" rx="6" ry="6" fill="#f2f2f2" stroke="#7ccfab" stroke-width="2.2" filter="url(#sh)"/>
<text opacity="0.99" transform="translate(31.8,300.4) scale(0.95,1)" font-size="15.8" font-weight="bold" text-anchor="middle" fill="#0a0a0a">700m</text>
<rect x="167.9" y="135.7" width="127.1" height="90.8" rx="13" ry="13" fill="#f2f2f2" stroke="#7ccfab" stroke-width="1.2" filter="url(#sh)"/>
<text opacity="0.99" transform="translate(177.5,149) scale(0.934,1)" font-size="10.6" fill="#161616" stroke="#161616" stroke-width="0.18" xml:space="preserve"><tspan font-weight="bold" fill="#000" stroke="none">SWRD-04</tspan></text>
<text opacity="0.99" transform="translate(177.5,160.8) scale(0.934,1)" font-size="10.6" fill="#161616" stroke="#161616" stroke-width="0.18" xml:space="preserve"><tspan>16m @ 1.00% Cu and</tspan></text>
<text opacity="0.99" transform="translate(177.5,172.5) scale(0.934,1)" font-size="10.6" fill="#161616" stroke="#161616" stroke-width="0.18" xml:space="preserve"><tspan>5.9g/t Ag from 332m</tspan></text>
<text opacity="0.99" transform="translate(177.5,184.2) scale(0.934,1)" font-size="10.6" fill="#161616" stroke="#161616" stroke-width="0.18" xml:space="preserve"><tspan font-style="italic">Incl. </tspan><tspan font-weight="bold" fill="#000" stroke="none">4m @ 2.51% Cu and</tspan></text>
<text opacity="0.99" transform="translate(177.5,196) scale(0.934,1)" font-size="10.6" fill="#161616" stroke="#161616" stroke-width="0.18" xml:space="preserve"><tspan font-weight="bold" fill="#000" stroke="none">14.5g/t Ag</tspan><tspan> from 338m</tspan></text>
<text opacity="0.99" transform="translate(177.5,207.8) scale(0.934,1)" font-size="10.6" fill="#161616" stroke="#161616" stroke-width="0.18" xml:space="preserve"><tspan>8m @ 1.17% Cu and</tspan></text>
<text opacity="0.99" transform="translate(177.5,219.5) scale(0.934,1)" font-size="10.6" fill="#161616" stroke="#161616" stroke-width="0.18" xml:space="preserve"><tspan>5.0g/t Ag from 368m</tspan></text>
<rect x="75.2" y="279.6" width="127.6" height="92.2" rx="13" ry="13" fill="#f2f2f2" stroke="#7ccfab" stroke-width="1.2" filter="url(#sh)"/>
<text opacity="0.99" transform="translate(83.5,293.4) scale(0.934,1)" font-size="10.6" fill="#161616" stroke="#161616" stroke-width="0.18" xml:space="preserve"><tspan font-weight="bold" fill="#000" stroke="none">SWRD-04</tspan></text>
<text opacity="0.99" transform="translate(83.5,305.2) scale(0.934,1)" font-size="10.6" fill="#161616" stroke="#161616" stroke-width="0.18" xml:space="preserve"><tspan font-weight="bold" fill="#000" stroke="none">1</tspan><tspan>0m @ 0.71% Cu and</tspan></text>
<text opacity="0.99" transform="translate(83.5,316.9) scale(0.934,1)" font-size="10.6" fill="#161616" stroke="#161616" stroke-width="0.18" xml:space="preserve"><tspan>6.4g/t Ag from 660m</tspan></text>
<text opacity="0.99" transform="translate(83.5,328.7) scale(0.934,1)" font-size="10.6" fill="#161616" stroke="#161616" stroke-width="0.18" xml:space="preserve"><tspan>4m @ 1.06% Cu and</tspan></text>
<text opacity="0.99" transform="translate(83.5,340.5) scale(0.934,1)" font-size="10.6" fill="#161616" stroke="#161616" stroke-width="0.18" xml:space="preserve"><tspan>8.5g/t Ag from 706m</tspan></text>
<text opacity="0.99" transform="translate(83.5,352.2) scale(0.934,1)" font-size="10.6" fill="#161616" stroke="#161616" stroke-width="0.18" xml:space="preserve"><tspan font-weight="bold" fill="#000" stroke="none">4m @ 1.08% Cu and</tspan></text>
<text opacity="0.99" transform="translate(83.5,364) scale(0.934,1)" font-size="10.6" fill="#161616" stroke="#161616" stroke-width="0.18" xml:space="preserve"><tspan font-weight="bold" fill="#000" stroke="none">17.0g/t</tspan><tspan> Ag from 820m</tspan></text>
<rect x="430.7" y="247.3" width="128.2" height="64.6" rx="10" ry="10" fill="#f2f2f2" stroke="#7ccfab" stroke-width="1.2" filter="url(#sh)"/>
<text opacity="0.99" transform="translate(438.8,259.9) scale(0.934,1)" font-size="10.6" fill="#161616" stroke="#161616" stroke-width="0.18" xml:space="preserve"><tspan font-weight="bold" fill="#000" stroke="none">SWRD-02</tspan></text>
<text opacity="0.99" transform="translate(438.8,271.5) scale(0.934,1)" font-size="10.6" fill="#161616" stroke="#161616" stroke-width="0.18" xml:space="preserve"><tspan font-weight="bold" fill="#000" stroke="none">74m @ 1.21% Cu and</tspan></text>
<text opacity="0.99" transform="translate(438.8,283.1) scale(0.934,1)" font-size="10.6" fill="#161616" stroke="#161616" stroke-width="0.18" xml:space="preserve"><tspan font-weight="bold" fill="#000" stroke="none">7.9g/t Ag</tspan><tspan> from 520m</tspan></text>
<text opacity="0.99" transform="translate(438.8,294.9) scale(0.934,1)" font-size="10.6" fill="#161616" stroke="#161616" stroke-width="0.18" xml:space="preserve"><tspan font-style="italic">Incl. </tspan><tspan>12m @ 2.07% Cu</tspan></text>
<text opacity="0.99" transform="translate(438.8,306.5) scale(0.934,1)" font-size="10.6" fill="#161616" stroke="#161616" stroke-width="0.18" xml:space="preserve"><tspan>and 17.2g/t Ag from 532m</tspan></text>
<rect x="669" y="115.6" width="127.8" height="64.8" rx="10" ry="10" fill="#f2f2f2" stroke="#7ccfab" stroke-width="1.2" filter="url(#sh)"/>
<text opacity="0.99" transform="translate(677,128) scale(0.934,1)" font-size="10.6" fill="#161616" stroke="#161616" stroke-width="0.18" xml:space="preserve"><tspan font-weight="bold" fill="#000" stroke="none">SMRD-34</tspan></text>
<text opacity="0.99" transform="translate(677,139.9) scale(0.934,1)" font-size="10.6" fill="#161616" stroke="#161616" stroke-width="0.18" xml:space="preserve"><tspan>36m @ 1.08% Cu and</tspan></text>
<text opacity="0.99" transform="translate(677,151.5) scale(0.934,1)" font-size="10.6" fill="#161616" stroke="#161616" stroke-width="0.18" xml:space="preserve"><tspan>13.8g/t Ag from 158m</tspan></text>
<text opacity="0.99" transform="translate(677,163.2) scale(0.934,1)" font-size="10.6" fill="#161616" stroke="#161616" stroke-width="0.18" xml:space="preserve"><tspan font-style="italic">Incl. </tspan><tspan font-weight="bold" fill="#000" stroke="none">6m @ 3.01% Cu and</tspan></text>
<text opacity="0.99" transform="translate(677,175) scale(0.934,1)" font-size="10.6" fill="#161616" stroke="#161616" stroke-width="0.18" xml:space="preserve"><tspan font-weight="bold" fill="#000" stroke="none">37.3g/t Ag</tspan><tspan> from 166m</tspan></text>
<rect x="621.4" y="360" width="166.1" height="78.2" rx="11" ry="11" fill="#f2f2f2" stroke="#7ccfab" stroke-width="1.2" filter="url(#sh)"/>
<text opacity="0.99" transform="translate(629.9,373.6) scale(0.934,1)" font-size="10.6" fill="#161616" stroke="#161616" stroke-width="0.18" xml:space="preserve"><tspan font-weight="bold" fill="#000" stroke="none">SMRD-24 (previously released)</tspan></text>
<text opacity="0.99" transform="translate(629.9,385.2) scale(0.934,1)" font-size="10.6" fill="#161616" stroke="#161616" stroke-width="0.18" xml:space="preserve"><tspan>68m @ 0.44% Cu from 288m</tspan></text>
<text opacity="0.99" transform="translate(629.9,397) scale(0.934,1)" font-size="10.6" fill="#161616" stroke="#161616" stroke-width="0.18" xml:space="preserve"><tspan font-style="italic">Incl. </tspan><tspan font-weight="bold" fill="#000" stroke="none">6m @ 1.99% Cu</tspan><tspan> from 312m</tspan></text>
<text opacity="0.99" transform="translate(629.9,408.7) scale(0.934,1)" font-size="10.6" fill="#161616" stroke="#161616" stroke-width="0.18" xml:space="preserve"><tspan>16m @ 1.24% Cu from 394m</tspan></text>
<text opacity="0.99" transform="translate(629.9,420.5) scale(0.934,1)" font-size="10.6" fill="#161616" stroke="#161616" stroke-width="0.18" xml:space="preserve"><tspan font-style="italic">Internals truncated by post mineral</tspan></text>
<text opacity="0.99" transform="translate(629.9,431.8) scale(0.934,1)" font-size="10.6" fill="#161616" stroke="#161616" stroke-width="0.18" xml:space="preserve"><tspan font-style="italic">dykes</tspan></text>
<rect x="479.1" y="433.9" width="136.8" height="63.1" rx="10" ry="10" fill="#f2f2f2" stroke="#7ccfab" stroke-width="1.2" filter="url(#sh)"/>
<text opacity="0.99" transform="translate(487.8,445.7) scale(0.934,1)" font-size="10.6" fill="#161616" stroke="#161616" stroke-width="0.18" xml:space="preserve"><tspan font-weight="bold" fill="#000" stroke="none">SMRD-34</tspan></text>
<text opacity="0.99" transform="translate(487.8,457.4) scale(0.934,1)" font-size="10.6" fill="#161616" stroke="#161616" stroke-width="0.18" xml:space="preserve"><tspan>24m @ 1.37% Cu and</tspan></text>
<text opacity="0.99" transform="translate(487.8,469.1) scale(0.934,1)" font-size="10.6" fill="#161616" stroke="#161616" stroke-width="0.18" xml:space="preserve"><tspan>12.2g/t Ag from 600m</tspan></text>
<text opacity="0.99" transform="translate(487.8,481.1) scale(0.934,1)" font-size="10.6" fill="#161616" stroke="#161616" stroke-width="0.18" xml:space="preserve"><tspan font-style="italic">Incl. </tspan><tspan font-weight="bold" fill="#000" stroke="none">10m @ 2.58% Cu and</tspan></text>
<text opacity="0.99" transform="translate(487.8,492.8) scale(0.934,1)" font-size="10.6" fill="#161616" stroke="#161616" stroke-width="0.18" xml:space="preserve"><tspan font-weight="bold" fill="#000" stroke="none">25.8g/t Ag</tspan><tspan> from 606m</tspan></text>
<rect x="722.9" y="486.4" width="171.2" height="52.3" rx="9" ry="9" fill="#f2f2f2" stroke="#7ccfab" stroke-width="1.2" filter="url(#sh)"/>
<text opacity="0.99" transform="translate(730.4,499.2) scale(0.934,1)" font-size="10.6" fill="#161616" stroke="#161616" stroke-width="0.18" xml:space="preserve"><tspan font-weight="bold" fill="#000" stroke="none">SMRD-22 (previously released)</tspan></text>
<text opacity="0.99" transform="translate(730.4,510.8) scale(0.934,1)" font-size="10.6" fill="#161616" stroke="#161616" stroke-width="0.18" xml:space="preserve"><tspan>160m @ 0.92% Cu from 102m</tspan></text>
<text opacity="0.99" transform="translate(730.4,522.5) scale(0.934,1)" font-size="10.6" fill="#161616" stroke="#161616" stroke-width="0.18" xml:space="preserve"><tspan font-style="italic">Incl. </tspan><tspan>48m @ 2.05% Cu from 186m</tspan></text>
<text opacity="0.99" transform="translate(730.4,534.3) scale(0.934,1)" font-size="10.6" fill="#161616" stroke="#161616" stroke-width="0.18" xml:space="preserve"><tspan>22m @ 0.56% Cu from 306m</tspan></text>
<rect x="1013.2" y="130.2" width="149.2" height="26.6" rx="4.5" ry="4.5" fill="#f2f2f2" stroke="#7ccfab" stroke-width="1.2" filter="url(#sh)"/>
<text opacity="0.99" transform="translate(1018.7,140.9) scale(0.934,1)" font-size="10.6" fill="#161616" stroke="#161616" stroke-width="0.18" xml:space="preserve"><tspan font-weight="bold" fill="#000" stroke="none">SMD-03 (previously released)</tspan></text>
<text opacity="0.99" transform="translate(1018.7,152.6) scale(0.934,1)" font-size="10.6" fill="#161616" stroke="#161616" stroke-width="0.18" xml:space="preserve"><tspan>42m @ 0.72% Cu from 226m</tspan></text>
<rect x="571.4" y="506.4" width="53.8" height="31.5" rx="6" ry="6" fill="#f2f2f2" stroke="#7ccfab" stroke-width="2.2" filter="url(#sh)"/>
<text opacity="0.99" transform="translate(598,526.3) scale(0.95,1)" font-size="15.8" font-weight="bold" text-anchor="middle" fill="#0a0a0a">1.5km</text>
</svg>
</body></html>
